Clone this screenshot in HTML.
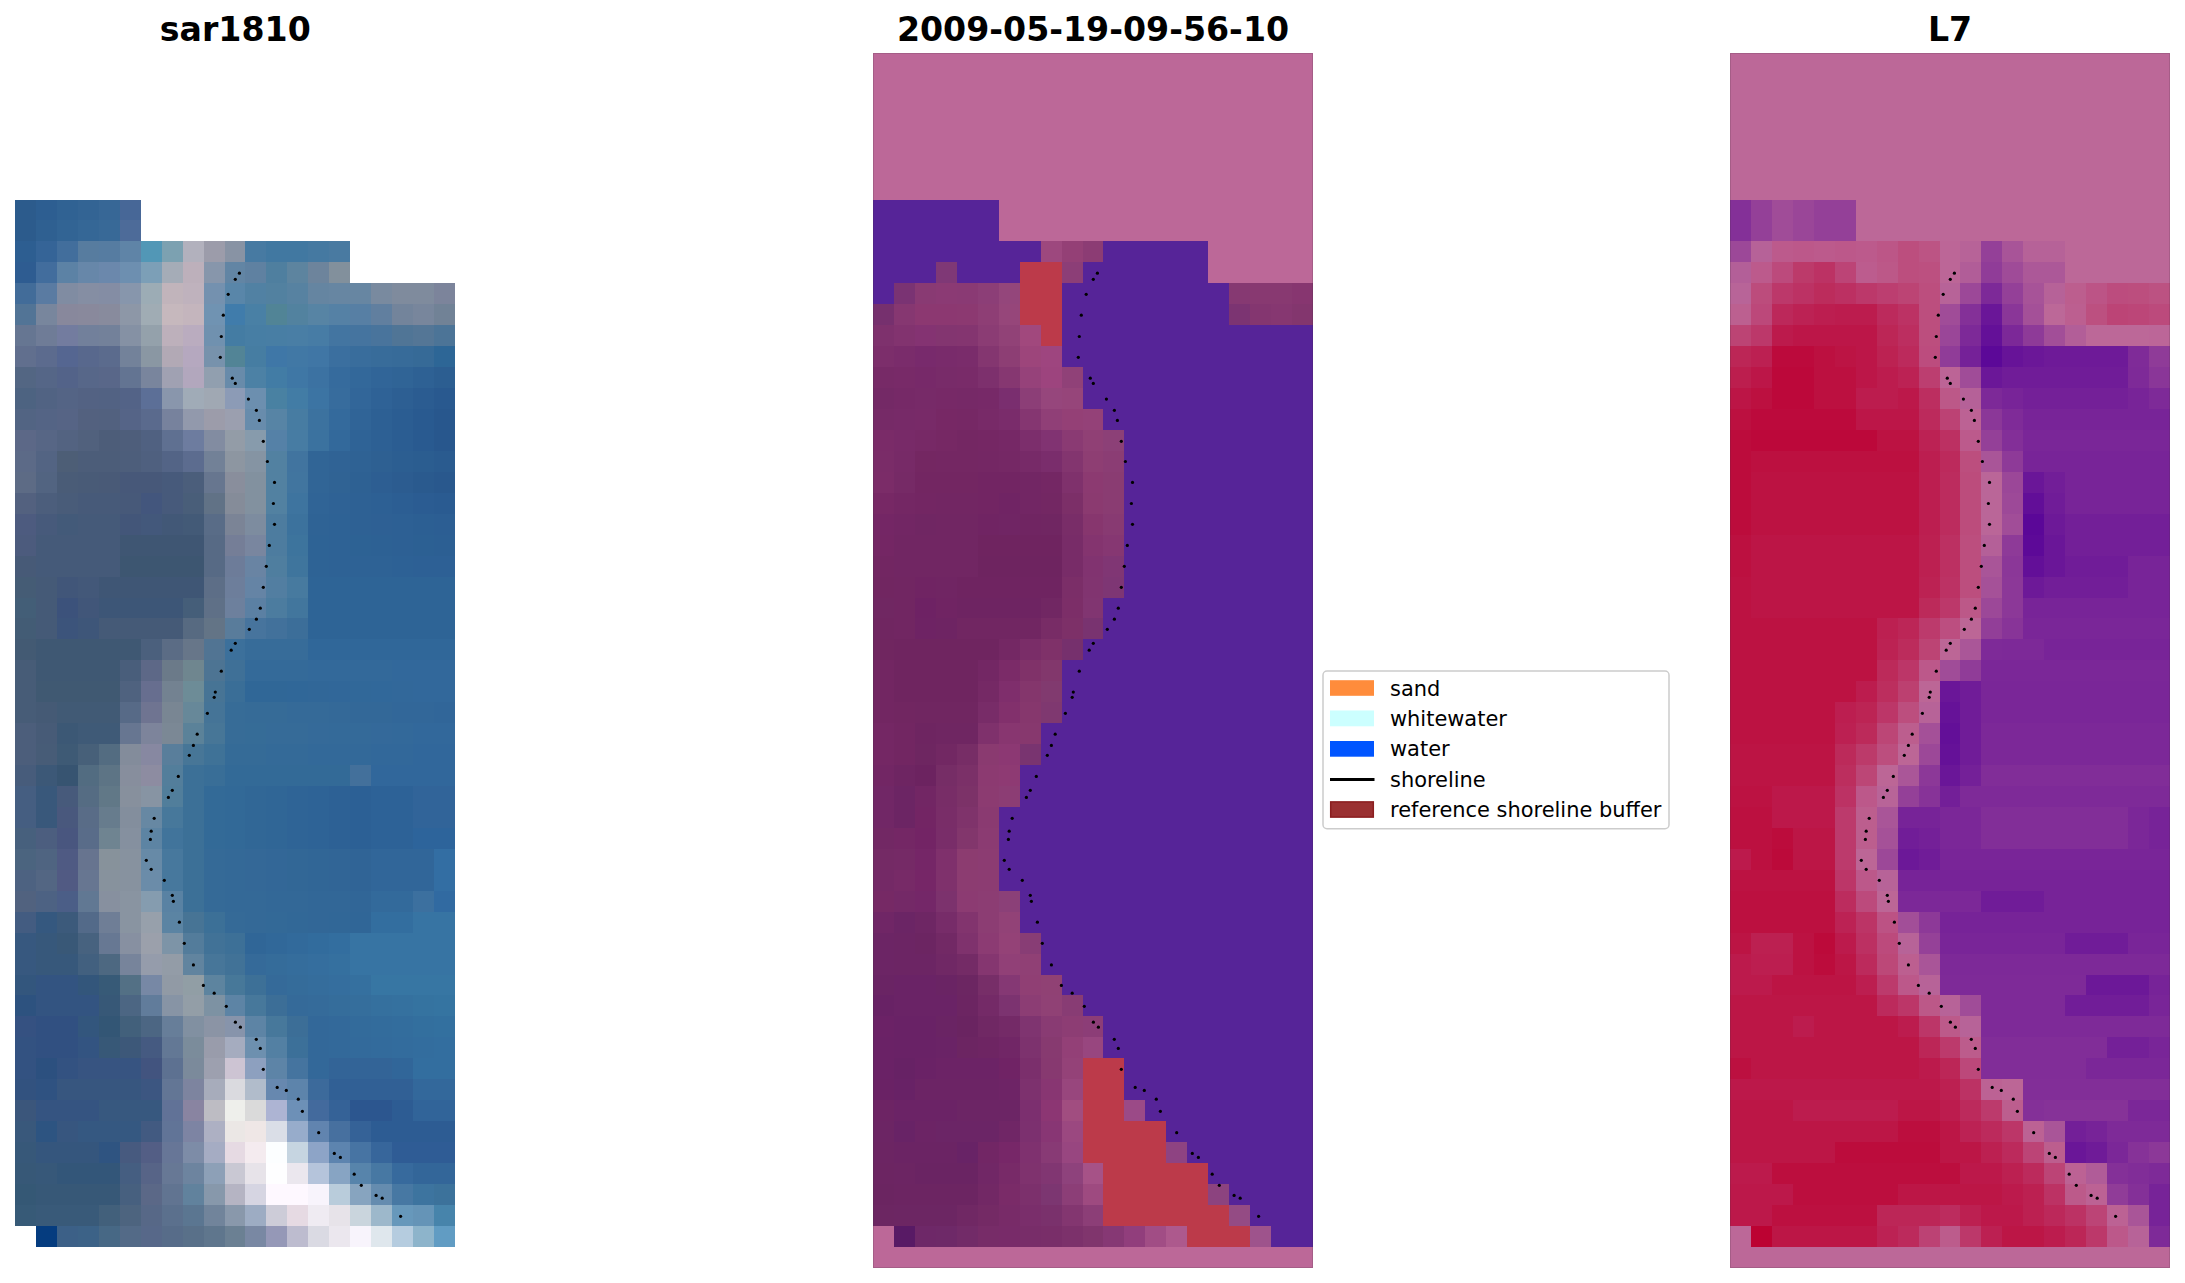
<!DOCTYPE html>
<html><head><meta charset="utf-8"><title>shoreline</title>
<style>html,body{margin:0;padding:0;background:#fff}svg{display:block}</style></head>
<body><svg width="2185" height="1283" viewBox="0 0 2185 1283">
<rect width="2185" height="1283" fill="#fff"/>
<g transform="translate(15.0 52.9) scale(20.95238 20.94655)" shape-rendering="crispEdges">
<path d="M0 7h1v1h-1z" fill="#2c5b8c"/>
<path d="M1 7h1v1h-1z" fill="#2d5e91"/>
<path d="M2 7h1v1h-1z" fill="#306293"/>
<path d="M3 7h1v1h-1z" fill="#336494"/>
<path d="M4 7h1v1h-1z" fill="#376796"/>
<path d="M5 7h1v1h-1z" fill="#476797"/>
<path d="M0 8h1v1h-1z" fill="#2c5b8c"/>
<path d="M1 8h1v1h-1z" fill="#2f6091"/>
<path d="M2 8h1v1h-1z" fill="#326494"/>
<path d="M3 8h1v1h-1z" fill="#356796"/>
<path d="M4 8h1v1h-1z" fill="#386997"/>
<path d="M5 8h1v1h-1z" fill="#4d6b99"/>
<path d="M0 9h1v1h-1z" fill="#2d5e91"/>
<path d="M1 9h1v1h-1z" fill="#356497"/>
<path d="M2 9h1v1h-1z" fill="#426e9c"/>
<path d="M3 9h1v1h-1z" fill="#577c9f"/>
<path d="M4 9h1v1h-1z" fill="#567ca1"/>
<path d="M5 9h1v1h-1z" fill="#5f84a7"/>
<path d="M6 9h1v1h-1z" fill="#5297b6"/>
<path d="M7 9h1v1h-1z" fill="#7ca1b1"/>
<path d="M8 9h1v1h-1z" fill="#b2b1bd"/>
<path d="M9 9h1v1h-1z" fill="#9c9caa"/>
<path d="M10 9h1v1h-1z" fill="#8893a4"/>
<path d="M11 9h1v1h-1z" fill="#477aa2"/>
<path d="M12 9h2v1h-2z" fill="#4178a1"/>
<path d="M14 9h1v1h-1z" fill="#4579a1"/>
<path d="M15 9h1v1h-1z" fill="#497aa1"/>
<path d="M0 10h1v1h-1z" fill="#2e5c91"/>
<path d="M1 10h1v1h-1z" fill="#426d9d"/>
<path d="M2 10h1v1h-1z" fill="#5c82a5"/>
<path d="M3 10h1v1h-1z" fill="#6787a9"/>
<path d="M4 10h1v1h-1z" fill="#6b88ac"/>
<path d="M5 10h1v1h-1z" fill="#6d8fb0"/>
<path d="M6 10h1v1h-1z" fill="#7c9fb7"/>
<path d="M7 10h1v1h-1z" fill="#a5acb7"/>
<path d="M8 10h1v1h-1z" fill="#bdb0bb"/>
<path d="M9 10h1v1h-1z" fill="#8796ab"/>
<path d="M10 10h1v1h-1z" fill="#6285a4"/>
<path d="M11 10h1v1h-1z" fill="#5f81a1"/>
<path d="M12 10h1v1h-1z" fill="#4f7f9f"/>
<path d="M13 10h1v1h-1z" fill="#5d849f"/>
<path d="M14 10h1v1h-1z" fill="#6d849c"/>
<path d="M15 10h1v1h-1z" fill="#82909c"/>
<path d="M0 11h1v1h-1z" fill="#426c99"/>
<path d="M1 11h1v1h-1z" fill="#5a7ba2"/>
<path d="M2 11h1v1h-1z" fill="#808ca2"/>
<path d="M3 11h1v1h-1z" fill="#858ea3"/>
<path d="M4 11h1v1h-1z" fill="#848da4"/>
<path d="M5 11h1v1h-1z" fill="#8796ac"/>
<path d="M6 11h1v1h-1z" fill="#9cacb5"/>
<path d="M7 11h1v1h-1z" fill="#c1b4bb"/>
<path d="M8 11h1v1h-1z" fill="#bfb2bd"/>
<path d="M9 11h1v1h-1z" fill="#7491af"/>
<path d="M10 11h1v1h-1z" fill="#5986a9"/>
<path d="M11 11h1v1h-1z" fill="#5181a3"/>
<path d="M12 11h1v1h-1z" fill="#5281a0"/>
<path d="M13 11h1v1h-1z" fill="#5782a1"/>
<path d="M14 11h1v1h-1z" fill="#6585a1"/>
<path d="M15 11h2v1h-2z" fill="#6786a2"/>
<path d="M17 11h1v1h-1z" fill="#798a9f"/>
<path d="M18 11h2v1h-2z" fill="#7f8b9d"/>
<path d="M20 11h1v1h-1z" fill="#7c849b"/>
<path d="M0 12h1v1h-1z" fill="#527496"/>
<path d="M1 12h1v1h-1z" fill="#78869d"/>
<path d="M2 12h1v1h-1z" fill="#88889c"/>
<path d="M3 12h1v1h-1z" fill="#89899c"/>
<path d="M4 12h1v1h-1z" fill="#888b9d"/>
<path d="M5 12h1v1h-1z" fill="#8d97a7"/>
<path d="M6 12h1v1h-1z" fill="#a0acb4"/>
<path d="M7 12h1v1h-1z" fill="#c6b8bd"/>
<path d="M8 12h1v1h-1z" fill="#c4b5bd"/>
<path d="M9 12h1v1h-1z" fill="#7093b2"/>
<path d="M10 12h1v1h-1z" fill="#407cab"/>
<path d="M11 12h1v1h-1z" fill="#4980a5"/>
<path d="M12 12h1v1h-1z" fill="#518496"/>
<path d="M13 12h1v1h-1z" fill="#52829f"/>
<path d="M14 12h1v1h-1z" fill="#5784a4"/>
<path d="M15 12h1v1h-1z" fill="#5581a5"/>
<path d="M16 12h1v1h-1z" fill="#577fa4"/>
<path d="M17 12h1v1h-1z" fill="#617f9f"/>
<path d="M18 12h1v1h-1z" fill="#73849b"/>
<path d="M19 12h1v1h-1z" fill="#78869c"/>
<path d="M20 12h1v1h-1z" fill="#718296"/>
<path d="M0 13h1v1h-1z" fill="#667692"/>
<path d="M1 13h1v1h-1z" fill="#6f7c97"/>
<path d="M2 13h1v1h-1z" fill="#737c9f"/>
<path d="M3 13h1v1h-1z" fill="#72809b"/>
<path d="M4 13h1v1h-1z" fill="#73819a"/>
<path d="M5 13h1v1h-1z" fill="#8591a4"/>
<path d="M6 13h1v1h-1z" fill="#94a1ab"/>
<path d="M7 13h1v1h-1z" fill="#bdb0bb"/>
<path d="M8 13h1v1h-1z" fill="#baacbf"/>
<path d="M9 13h1v1h-1z" fill="#7091af"/>
<path d="M10 13h1v1h-1z" fill="#447ca3"/>
<path d="M11 13h1v1h-1z" fill="#477ea4"/>
<path d="M12 13h1v1h-1z" fill="#487ea4"/>
<path d="M13 13h1v1h-1z" fill="#497ea5"/>
<path d="M14 13h1v1h-1z" fill="#477ca5"/>
<path d="M15 13h1v1h-1z" fill="#4375a1"/>
<path d="M16 13h1v1h-1z" fill="#45749f"/>
<path d="M17 13h1v1h-1z" fill="#49749c"/>
<path d="M18 13h1v1h-1z" fill="#507596"/>
<path d="M19 13h1v1h-1z" fill="#547696"/>
<path d="M20 13h1v1h-1z" fill="#4c7497"/>
<path d="M0 14h1v1h-1z" fill="#616f8e"/>
<path d="M1 14h1v1h-1z" fill="#5c6b8e"/>
<path d="M2 14h1v1h-1z" fill="#556691"/>
<path d="M3 14h1v1h-1z" fill="#58688d"/>
<path d="M4 14h1v1h-1z" fill="#5b6b8d"/>
<path d="M5 14h1v1h-1z" fill="#73829a"/>
<path d="M6 14h1v1h-1z" fill="#8a97a3"/>
<path d="M7 14h1v1h-1z" fill="#b2a9b5"/>
<path d="M8 14h1v1h-1z" fill="#b5a8bf"/>
<path d="M9 14h1v1h-1z" fill="#7792ac"/>
<path d="M10 14h1v1h-1z" fill="#528496"/>
<path d="M11 14h1v1h-1z" fill="#467da2"/>
<path d="M12 14h1v1h-1z" fill="#3f77a7"/>
<path d="M13 14h1v1h-1z" fill="#4178a5"/>
<path d="M14 14h1v1h-1z" fill="#4076a5"/>
<path d="M15 14h1v1h-1z" fill="#3b6f9f"/>
<path d="M16 14h1v1h-1z" fill="#396d9c"/>
<path d="M17 14h1v1h-1z" fill="#386c9a"/>
<path d="M18 14h1v1h-1z" fill="#376b99"/>
<path d="M19 14h1v1h-1z" fill="#366a97"/>
<path d="M20 14h1v1h-1z" fill="#2d6696"/>
<path d="M0 15h1v1h-1z" fill="#536683"/>
<path d="M1 15h1v1h-1z" fill="#556687"/>
<path d="M2 15h1v1h-1z" fill="#536389"/>
<path d="M3 15h1v1h-1z" fill="#576789"/>
<path d="M4 15h1v1h-1z" fill="#596789"/>
<path d="M5 15h1v1h-1z" fill="#637492"/>
<path d="M6 15h1v1h-1z" fill="#79859d"/>
<path d="M7 15h1v1h-1z" fill="#a0a1b2"/>
<path d="M8 15h1v1h-1z" fill="#b2a7bd"/>
<path d="M9 15h1v1h-1z" fill="#919faf"/>
<path d="M10 15h1v1h-1z" fill="#688baa"/>
<path d="M11 15h1v1h-1z" fill="#4c81a5"/>
<path d="M12 15h1v1h-1z" fill="#427ca5"/>
<path d="M13 15h1v1h-1z" fill="#3f77a5"/>
<path d="M14 15h1v1h-1z" fill="#3c72a2"/>
<path d="M15 15h1v1h-1z" fill="#366b9d"/>
<path d="M16 15h1v1h-1z" fill="#33689a"/>
<path d="M17 15h1v1h-1z" fill="#316598"/>
<path d="M18 15h1v1h-1z" fill="#306496"/>
<path d="M19 15h1v1h-1z" fill="#2e6194"/>
<path d="M20 15h1v1h-1z" fill="#2c5e91"/>
<path d="M0 16h1v1h-1z" fill="#4d6381"/>
<path d="M1 16h1v1h-1z" fill="#516383"/>
<path d="M2 16h1v1h-1z" fill="#546485"/>
<path d="M3 16h1v1h-1z" fill="#536283"/>
<path d="M4 16h1v1h-1z" fill="#526283"/>
<path d="M5 16h1v1h-1z" fill="#536387"/>
<path d="M6 16h1v1h-1z" fill="#5c6f97"/>
<path d="M7 16h1v1h-1z" fill="#8996ac"/>
<path d="M8 16h1v1h-1z" fill="#a0abb7"/>
<path d="M9 16h1v1h-1z" fill="#a0a8b3"/>
<path d="M10 16h1v1h-1z" fill="#8c9bb6"/>
<path d="M11 16h1v1h-1z" fill="#6c8faf"/>
<path d="M12 16h1v1h-1z" fill="#4981a2"/>
<path d="M13 16h1v1h-1z" fill="#427ca5"/>
<path d="M14 16h1v1h-1z" fill="#3c74a3"/>
<path d="M15 16h1v1h-1z" fill="#376c9d"/>
<path d="M16 16h1v1h-1z" fill="#326699"/>
<path d="M17 16h1v1h-1z" fill="#2f6296"/>
<path d="M18 16h1v1h-1z" fill="#2d5f93"/>
<path d="M19 16h1v1h-1z" fill="#2b5c91"/>
<path d="M20 16h1v1h-1z" fill="#29598f"/>
<path d="M0 17h1v1h-1z" fill="#526483"/>
<path d="M1 17h1v1h-1z" fill="#546485"/>
<path d="M2 17h1v1h-1z" fill="#566485"/>
<path d="M3 17h1v1h-1z" fill="#53617f"/>
<path d="M4 17h1v1h-1z" fill="#52617f"/>
<path d="M5 17h1v1h-1z" fill="#556487"/>
<path d="M6 17h1v1h-1z" fill="#5a6a8d"/>
<path d="M7 17h1v1h-1z" fill="#77829d"/>
<path d="M8 17h1v1h-1z" fill="#9299ac"/>
<path d="M9 17h1v1h-1z" fill="#9c9caa"/>
<path d="M10 17h1v1h-1z" fill="#9b9faf"/>
<path d="M11 17h1v1h-1z" fill="#688cac"/>
<path d="M12 17h1v1h-1z" fill="#5784a5"/>
<path d="M13 17h1v1h-1z" fill="#477ca2"/>
<path d="M14 17h1v1h-1z" fill="#3c729f"/>
<path d="M15 17h1v1h-1z" fill="#346a9c"/>
<path d="M16 17h1v1h-1z" fill="#306497"/>
<path d="M17 17h1v1h-1z" fill="#2d6094"/>
<path d="M18 17h1v1h-1z" fill="#2b5d92"/>
<path d="M19 17h1v1h-1z" fill="#295a90"/>
<path d="M20 17h1v1h-1z" fill="#28578d"/>
<path d="M0 18h1v1h-1z" fill="#5c6887"/>
<path d="M1 18h1v1h-1z" fill="#576685"/>
<path d="M2 18h1v1h-1z" fill="#536381"/>
<path d="M3 18h1v1h-1z" fill="#51617d"/>
<path d="M4 18h1v1h-1z" fill="#4d5d79"/>
<path d="M5 18h1v1h-1z" fill="#4e5e7b"/>
<path d="M6 18h1v1h-1z" fill="#506181"/>
<path d="M7 18h1v1h-1z" fill="#5f7091"/>
<path d="M8 18h1v1h-1z" fill="#6d7c9f"/>
<path d="M9 18h1v1h-1z" fill="#828ca1"/>
<path d="M10 18h1v1h-1z" fill="#939ca7"/>
<path d="M11 18h1v1h-1z" fill="#879bac"/>
<path d="M12 18h1v1h-1z" fill="#5581a7"/>
<path d="M13 18h1v1h-1z" fill="#477ca3"/>
<path d="M14 18h1v1h-1z" fill="#3b729f"/>
<path d="M15 18h1v1h-1z" fill="#33699b"/>
<path d="M16 18h1v1h-1z" fill="#2f6396"/>
<path d="M17 18h1v1h-1z" fill="#2d6094"/>
<path d="M18 18h1v1h-1z" fill="#2b5d92"/>
<path d="M19 18h1v1h-1z" fill="#295a90"/>
<path d="M20 18h1v1h-1z" fill="#28578d"/>
<path d="M0 19h1v1h-1z" fill="#5c6a87"/>
<path d="M1 19h1v1h-1z" fill="#536483"/>
<path d="M2 19h1v1h-1z" fill="#4d5e76"/>
<path d="M3 19h2v1h-2z" fill="#4c5d79"/>
<path d="M5 19h1v1h-1z" fill="#4d5e7b"/>
<path d="M6 19h1v1h-1z" fill="#4f607f"/>
<path d="M7 19h1v1h-1z" fill="#536486"/>
<path d="M8 19h1v1h-1z" fill="#5c6c8f"/>
<path d="M9 19h1v1h-1z" fill="#728197"/>
<path d="M10 19h1v1h-1z" fill="#8d96a1"/>
<path d="M11 19h1v1h-1z" fill="#8594a3"/>
<path d="M12 19h1v1h-1z" fill="#5281a1"/>
<path d="M13 19h1v1h-1z" fill="#41749f"/>
<path d="M14 19h1v1h-1z" fill="#316596"/>
<path d="M15 19h1v1h-1z" fill="#306395"/>
<path d="M16 19h1v1h-1z" fill="#2f6294"/>
<path d="M17 19h1v1h-1z" fill="#2e6092"/>
<path d="M18 19h1v1h-1z" fill="#2c5e91"/>
<path d="M19 19h1v1h-1z" fill="#2b5d90"/>
<path d="M20 19h1v1h-1z" fill="#2a5b8f"/>
<path d="M0 20h1v1h-1z" fill="#5d6b85"/>
<path d="M1 20h1v1h-1z" fill="#526481"/>
<path d="M2 20h1v1h-1z" fill="#4a5c77"/>
<path d="M3 20h1v1h-1z" fill="#495b77"/>
<path d="M4 20h1v1h-1z" fill="#495a77"/>
<path d="M5 20h2v1h-2z" fill="#475879"/>
<path d="M7 20h1v1h-1z" fill="#475a7b"/>
<path d="M8 20h1v1h-1z" fill="#4b5e7b"/>
<path d="M9 20h1v1h-1z" fill="#67768f"/>
<path d="M10 20h1v1h-1z" fill="#898e9c"/>
<path d="M11 20h1v1h-1z" fill="#82919f"/>
<path d="M12 20h1v1h-1z" fill="#5281a1"/>
<path d="M13 20h1v1h-1z" fill="#41759f"/>
<path d="M14 20h1v1h-1z" fill="#316596"/>
<path d="M15 20h1v1h-1z" fill="#306394"/>
<path d="M16 20h1v1h-1z" fill="#2e6193"/>
<path d="M17 20h1v1h-1z" fill="#2d5e92"/>
<path d="M18 20h1v1h-1z" fill="#2c5c90"/>
<path d="M19 20h1v1h-1z" fill="#2a5a8e"/>
<path d="M20 20h1v1h-1z" fill="#29588d"/>
<path d="M0 21h1v1h-1z" fill="#53617f"/>
<path d="M1 21h1v1h-1z" fill="#4c5e7c"/>
<path d="M2 21h1v1h-1z" fill="#495c79"/>
<path d="M3 21h2v1h-2z" fill="#475a79"/>
<path d="M5 21h1v1h-1z" fill="#475979"/>
<path d="M6 21h1v1h-1z" fill="#43567d"/>
<path d="M7 21h1v1h-1z" fill="#475a7b"/>
<path d="M8 21h1v1h-1z" fill="#495e79"/>
<path d="M9 21h1v1h-1z" fill="#617286"/>
<path d="M10 21h1v1h-1z" fill="#858c99"/>
<path d="M11 21h1v1h-1z" fill="#82919f"/>
<path d="M12 21h1v1h-1z" fill="#5281a1"/>
<path d="M13 21h1v1h-1z" fill="#3e749f"/>
<path d="M14 21h1v1h-1z" fill="#306496"/>
<path d="M15 21h1v1h-1z" fill="#2f6295"/>
<path d="M16 21h1v1h-1z" fill="#2e6194"/>
<path d="M17 21h1v1h-1z" fill="#2d6094"/>
<path d="M18 21h1v1h-1z" fill="#2c5e93"/>
<path d="M19 21h1v1h-1z" fill="#2b5c92"/>
<path d="M20 21h1v1h-1z" fill="#2a5b91"/>
<path d="M0 22h1v1h-1z" fill="#4d5b7f"/>
<path d="M1 22h1v1h-1z" fill="#475a7b"/>
<path d="M2 22h1v1h-1z" fill="#435a79"/>
<path d="M3 22h2v1h-2z" fill="#455a79"/>
<path d="M5 22h1v1h-1z" fill="#435679"/>
<path d="M6 22h1v1h-1z" fill="#43587b"/>
<path d="M7 22h1v1h-1z" fill="#425877"/>
<path d="M8 22h1v1h-1z" fill="#435a77"/>
<path d="M9 22h1v1h-1z" fill="#596c87"/>
<path d="M10 22h1v1h-1z" fill="#7b8496"/>
<path d="M11 22h1v1h-1z" fill="#7d8c9f"/>
<path d="M12 22h1v1h-1z" fill="#4d7c9f"/>
<path d="M13 22h1v1h-1z" fill="#3c729d"/>
<path d="M14 22h1v1h-1z" fill="#2f6395"/>
<path d="M15 22h1v1h-1z" fill="#2e6295"/>
<path d="M16 22h1v1h-1z" fill="#2e6194"/>
<path d="M17 22h1v1h-1z" fill="#2e6094"/>
<path d="M18 22h1v1h-1z" fill="#2d6094"/>
<path d="M19 22h1v1h-1z" fill="#2c5f93"/>
<path d="M20 22h1v1h-1z" fill="#2c5e93"/>
<path d="M0 23h1v1h-1z" fill="#4c5b7d"/>
<path d="M1 23h4v1h-4z" fill="#455a79"/>
<path d="M5 23h4v1h-4z" fill="#3f5673"/>
<path d="M9 23h1v1h-1z" fill="#576a85"/>
<path d="M10 23h1v1h-1z" fill="#757e97"/>
<path d="M11 23h1v1h-1z" fill="#79869f"/>
<path d="M12 23h1v1h-1z" fill="#4d7c9f"/>
<path d="M13 23h1v1h-1z" fill="#3d749d"/>
<path d="M14 23h1v1h-1z" fill="#2e6395"/>
<path d="M15 23h1v1h-1z" fill="#2e6295"/>
<path d="M16 23h1v1h-1z" fill="#2d6294"/>
<path d="M17 23h1v1h-1z" fill="#2d6194"/>
<path d="M18 23h1v1h-1z" fill="#2d6094"/>
<path d="M19 23h1v1h-1z" fill="#2c6093"/>
<path d="M20 23h1v1h-1z" fill="#2c5f93"/>
<path d="M0 24h1v1h-1z" fill="#475a77"/>
<path d="M1 24h4v1h-4z" fill="#455a79"/>
<path d="M5 24h4v1h-4z" fill="#3d5671"/>
<path d="M9 24h1v1h-1z" fill="#576a85"/>
<path d="M10 24h1v1h-1z" fill="#6d7c99"/>
<path d="M11 24h1v1h-1z" fill="#6984a3"/>
<path d="M12 24h1v1h-1z" fill="#4f7e9f"/>
<path d="M13 24h1v1h-1z" fill="#3f759d"/>
<path d="M14 24h1v1h-1z" fill="#2e6395"/>
<path d="M15 24h3v1h-3z" fill="#2e6295"/>
<path d="M18 24h1v1h-1z" fill="#2d6195"/>
<path d="M19 24h2v1h-2z" fill="#2d6095"/>
<path d="M0 25h1v1h-1z" fill="#455c75"/>
<path d="M1 25h1v1h-1z" fill="#455a77"/>
<path d="M2 25h1v1h-1z" fill="#415679"/>
<path d="M3 25h1v1h-1z" fill="#435879"/>
<path d="M4 25h5v1h-5z" fill="#3f5675"/>
<path d="M9 25h1v1h-1z" fill="#5d6e87"/>
<path d="M10 25h1v1h-1z" fill="#6d7e9b"/>
<path d="M11 25h1v1h-1z" fill="#6584a5"/>
<path d="M12 25h1v1h-1z" fill="#527ea1"/>
<path d="M13 25h1v1h-1z" fill="#477a9f"/>
<path d="M14 25h7v1h-7z" fill="#2e6496"/>
<path d="M0 26h1v1h-1z" fill="#435e77"/>
<path d="M1 26h1v1h-1z" fill="#455a77"/>
<path d="M2 26h1v1h-1z" fill="#3c527b"/>
<path d="M3 26h1v1h-1z" fill="#415679"/>
<path d="M4 26h4v1h-4z" fill="#3d5677"/>
<path d="M8 26h1v1h-1z" fill="#455e79"/>
<path d="M9 26h1v1h-1z" fill="#5f7087"/>
<path d="M10 26h1v1h-1z" fill="#6d809d"/>
<path d="M11 26h1v1h-1z" fill="#5b80a3"/>
<path d="M12 26h1v1h-1z" fill="#4c7c9f"/>
<path d="M13 26h1v1h-1z" fill="#42769d"/>
<path d="M14 26h7v1h-7z" fill="#2e6496"/>
<path d="M0 27h1v1h-1z" fill="#435c75"/>
<path d="M1 27h1v1h-1z" fill="#455a77"/>
<path d="M2 27h1v1h-1z" fill="#3c547b"/>
<path d="M3 27h1v1h-1z" fill="#3e5679"/>
<path d="M4 27h4v1h-4z" fill="#455a77"/>
<path d="M8 27h1v1h-1z" fill="#576a81"/>
<path d="M9 27h1v1h-1z" fill="#637486"/>
<path d="M10 27h1v1h-1z" fill="#597c9b"/>
<path d="M11 27h1v1h-1z" fill="#47749d"/>
<path d="M12 27h1v1h-1z" fill="#42719b"/>
<path d="M13 27h1v1h-1z" fill="#3c6e99"/>
<path d="M14 27h7v1h-7z" fill="#2e6496"/>
<path d="M0 28h1v1h-1z" fill="#435a73"/>
<path d="M1 28h5v1h-5z" fill="#3f5873"/>
<path d="M6 28h1v1h-1z" fill="#4b607d"/>
<path d="M7 28h1v1h-1z" fill="#5b6c85"/>
<path d="M8 28h1v1h-1z" fill="#677689"/>
<path d="M9 28h1v1h-1z" fill="#517493"/>
<path d="M10 28h1v1h-1z" fill="#3c709b"/>
<path d="M11 28h3v1h-3z" fill="#376c99"/>
<path d="M14 28h7v1h-7z" fill="#306799"/>
<path d="M0 29h1v1h-1z" fill="#475c77"/>
<path d="M1 29h4v1h-4z" fill="#3f5873"/>
<path d="M5 29h1v1h-1z" fill="#495e7b"/>
<path d="M6 29h1v1h-1z" fill="#5d6887"/>
<path d="M7 29h1v1h-1z" fill="#6b7a89"/>
<path d="M8 29h1v1h-1z" fill="#6f868f"/>
<path d="M9 29h1v1h-1z" fill="#4d7493"/>
<path d="M10 29h1v1h-1z" fill="#3f7097"/>
<path d="M11 29h3v1h-3z" fill="#346a99"/>
<path d="M14 29h4v1h-4z" fill="#33699a"/>
<path d="M18 29h3v1h-3z" fill="#32689b"/>
<path d="M0 30h1v1h-1z" fill="#475c77"/>
<path d="M1 30h4v1h-4z" fill="#405972"/>
<path d="M5 30h1v1h-1z" fill="#4f627f"/>
<path d="M6 30h1v1h-1z" fill="#676e8f"/>
<path d="M7 30h1v1h-1z" fill="#738291"/>
<path d="M8 30h1v1h-1z" fill="#6d8c97"/>
<path d="M9 30h1v1h-1z" fill="#477495"/>
<path d="M10 30h1v1h-1z" fill="#3a6e97"/>
<path d="M11 30h2v1h-2z" fill="#306797"/>
<path d="M13 30h1v1h-1z" fill="#306798"/>
<path d="M14 30h1v1h-1z" fill="#316798"/>
<path d="M15 30h1v1h-1z" fill="#316799"/>
<path d="M16 30h1v1h-1z" fill="#316899"/>
<path d="M17 30h1v1h-1z" fill="#31689a"/>
<path d="M18 30h1v1h-1z" fill="#32689a"/>
<path d="M19 30h2v1h-2z" fill="#32689b"/>
<path d="M0 31h1v1h-1z" fill="#475c77"/>
<path d="M1 31h1v1h-1z" fill="#455a75"/>
<path d="M2 31h3v1h-3z" fill="#415a75"/>
<path d="M5 31h1v1h-1z" fill="#576a87"/>
<path d="M6 31h1v1h-1z" fill="#6f7491"/>
<path d="M7 31h1v1h-1z" fill="#798693"/>
<path d="M8 31h1v1h-1z" fill="#678899"/>
<path d="M9 31h1v1h-1z" fill="#457497"/>
<path d="M10 31h1v1h-1z" fill="#376c97"/>
<path d="M11 31h2v1h-2z" fill="#366b97"/>
<path d="M13 31h2v1h-2z" fill="#356a98"/>
<path d="M15 31h1v1h-1z" fill="#346998"/>
<path d="M16 31h2v1h-2z" fill="#336898"/>
<path d="M18 31h2v1h-2z" fill="#326799"/>
<path d="M20 31h1v1h-1z" fill="#316699"/>
<path d="M0 32h1v1h-1z" fill="#4c5e7b"/>
<path d="M1 32h1v1h-1z" fill="#475b77"/>
<path d="M2 32h1v1h-1z" fill="#3c5875"/>
<path d="M3 32h2v1h-2z" fill="#3f5a77"/>
<path d="M5 32h1v1h-1z" fill="#677691"/>
<path d="M6 32h1v1h-1z" fill="#7d849b"/>
<path d="M7 32h1v1h-1z" fill="#7b8895"/>
<path d="M8 32h1v1h-1z" fill="#5b8299"/>
<path d="M9 32h1v1h-1z" fill="#477697"/>
<path d="M10 32h1v1h-1z" fill="#376c97"/>
<path d="M11 32h1v1h-1z" fill="#366c97"/>
<path d="M12 32h2v1h-2z" fill="#366b98"/>
<path d="M14 32h1v1h-1z" fill="#356a99"/>
<path d="M15 32h2v1h-2z" fill="#346a99"/>
<path d="M17 32h1v1h-1z" fill="#34699a"/>
<path d="M18 32h1v1h-1z" fill="#33699a"/>
<path d="M19 32h2v1h-2z" fill="#32689b"/>
<path d="M0 33h1v1h-1z" fill="#4c5e7b"/>
<path d="M1 33h1v1h-1z" fill="#475c77"/>
<path d="M2 33h1v1h-1z" fill="#3e5a75"/>
<path d="M3 33h1v1h-1z" fill="#476079"/>
<path d="M4 33h1v1h-1z" fill="#536c81"/>
<path d="M5 33h1v1h-1z" fill="#838c9b"/>
<path d="M6 33h1v1h-1z" fill="#8788a1"/>
<path d="M7 33h1v1h-1z" fill="#597e9b"/>
<path d="M8 33h1v1h-1z" fill="#477697"/>
<path d="M9 33h1v1h-1z" fill="#3f7297"/>
<path d="M10 33h2v1h-2z" fill="#356b97"/>
<path d="M12 33h2v1h-2z" fill="#346a98"/>
<path d="M14 33h3v1h-3z" fill="#336999"/>
<path d="M17 33h2v1h-2z" fill="#32689a"/>
<path d="M19 33h2v1h-2z" fill="#31679b"/>
<path d="M0 34h1v1h-1z" fill="#475c7b"/>
<path d="M1 34h1v1h-1z" fill="#3c5877"/>
<path d="M2 34h1v1h-1z" fill="#375471"/>
<path d="M3 34h1v1h-1z" fill="#526c81"/>
<path d="M4 34h1v1h-1z" fill="#5d7485"/>
<path d="M5 34h1v1h-1z" fill="#878e9d"/>
<path d="M6 34h1v1h-1z" fill="#8d8ca1"/>
<path d="M7 34h1v1h-1z" fill="#537e9b"/>
<path d="M8 34h1v1h-1z" fill="#3c7097"/>
<path d="M9 34h1v1h-1z" fill="#396e97"/>
<path d="M10 34h6v1h-6z" fill="#336a97"/>
<path d="M16 34h1v1h-1z" fill="#43709b"/>
<path d="M17 34h4v1h-4z" fill="#31679b"/>
<path d="M0 35h1v1h-1z" fill="#455e81"/>
<path d="M1 35h1v1h-1z" fill="#39587b"/>
<path d="M2 35h1v1h-1z" fill="#475a7b"/>
<path d="M3 35h1v1h-1z" fill="#556c83"/>
<path d="M4 35h1v1h-1z" fill="#617887"/>
<path d="M5 35h1v1h-1z" fill="#87909d"/>
<path d="M6 35h1v1h-1z" fill="#8794a3"/>
<path d="M7 35h1v1h-1z" fill="#517e9b"/>
<path d="M8 35h1v1h-1z" fill="#3c7097"/>
<path d="M9 35h1v1h-1z" fill="#336a97"/>
<path d="M10 35h1v1h-1z" fill="#326997"/>
<path d="M11 35h1v1h-1z" fill="#316796"/>
<path d="M12 35h1v1h-1z" fill="#306696"/>
<path d="M13 35h1v1h-1z" fill="#2f6496"/>
<path d="M14 35h1v1h-1z" fill="#2e6396"/>
<path d="M15 35h1v1h-1z" fill="#2d6195"/>
<path d="M16 35h1v1h-1z" fill="#2c6095"/>
<path d="M17 35h2v1h-2z" fill="#2d6297"/>
<path d="M19 35h2v1h-2z" fill="#316499"/>
<path d="M0 36h1v1h-1z" fill="#455e81"/>
<path d="M1 36h1v1h-1z" fill="#39587b"/>
<path d="M2 36h1v1h-1z" fill="#49587d"/>
<path d="M3 36h1v1h-1z" fill="#596c87"/>
<path d="M4 36h1v1h-1z" fill="#677c8d"/>
<path d="M5 36h1v1h-1z" fill="#838e9d"/>
<path d="M6 36h1v1h-1z" fill="#6788a3"/>
<path d="M7 36h1v1h-1z" fill="#47789b"/>
<path d="M8 36h1v1h-1z" fill="#3c7097"/>
<path d="M9 36h1v1h-1z" fill="#336a97"/>
<path d="M10 36h1v1h-1z" fill="#326997"/>
<path d="M11 36h1v1h-1z" fill="#316796"/>
<path d="M12 36h1v1h-1z" fill="#306696"/>
<path d="M13 36h1v1h-1z" fill="#2f6496"/>
<path d="M14 36h1v1h-1z" fill="#2e6396"/>
<path d="M15 36h1v1h-1z" fill="#2d6195"/>
<path d="M16 36h1v1h-1z" fill="#2c6095"/>
<path d="M17 36h2v1h-2z" fill="#2d6297"/>
<path d="M19 36h2v1h-2z" fill="#316499"/>
<path d="M0 37h1v1h-1z" fill="#47607d"/>
<path d="M1 37h1v1h-1z" fill="#4c5e7f"/>
<path d="M2 37h1v1h-1z" fill="#49567f"/>
<path d="M3 37h1v1h-1z" fill="#596c89"/>
<path d="M4 37h1v1h-1z" fill="#6f8491"/>
<path d="M5 37h1v1h-1z" fill="#85909f"/>
<path d="M6 37h1v1h-1z" fill="#5d84a3"/>
<path d="M7 37h1v1h-1z" fill="#41749b"/>
<path d="M8 37h1v1h-1z" fill="#3c7097"/>
<path d="M9 37h1v1h-1z" fill="#336a97"/>
<path d="M10 37h1v1h-1z" fill="#326997"/>
<path d="M11 37h1v1h-1z" fill="#316796"/>
<path d="M12 37h1v1h-1z" fill="#306696"/>
<path d="M13 37h1v1h-1z" fill="#2f6496"/>
<path d="M14 37h1v1h-1z" fill="#2e6396"/>
<path d="M15 37h1v1h-1z" fill="#2d6195"/>
<path d="M16 37h1v1h-1z" fill="#2c6095"/>
<path d="M17 37h2v1h-2z" fill="#2d6297"/>
<path d="M19 37h2v1h-2z" fill="#2d649b"/>
<path d="M0 38h1v1h-1z" fill="#4b647f"/>
<path d="M1 38h1v1h-1z" fill="#4f6481"/>
<path d="M2 38h1v1h-1z" fill="#4f5a83"/>
<path d="M3 38h1v1h-1z" fill="#67748f"/>
<path d="M4 38h1v1h-1z" fill="#87929b"/>
<path d="M5 38h1v1h-1z" fill="#87929f"/>
<path d="M6 38h1v1h-1z" fill="#678aa7"/>
<path d="M7 38h1v1h-1z" fill="#47789d"/>
<path d="M8 38h1v1h-1z" fill="#3c7097"/>
<path d="M9 38h1v1h-1z" fill="#356a97"/>
<path d="M10 38h1v1h-1z" fill="#346997"/>
<path d="M11 38h1v1h-1z" fill="#346897"/>
<path d="M12 38h1v1h-1z" fill="#336797"/>
<path d="M13 38h1v1h-1z" fill="#326796"/>
<path d="M14 38h1v1h-1z" fill="#316696"/>
<path d="M15 38h1v1h-1z" fill="#316596"/>
<path d="M16 38h1v1h-1z" fill="#306496"/>
<path d="M17 38h3v1h-3z" fill="#316699"/>
<path d="M20 38h1v1h-1z" fill="#336ea3"/>
<path d="M0 39h1v1h-1z" fill="#4d6281"/>
<path d="M1 39h1v1h-1z" fill="#536683"/>
<path d="M2 39h1v1h-1z" fill="#515a83"/>
<path d="M3 39h1v1h-1z" fill="#677691"/>
<path d="M4 39h1v1h-1z" fill="#87929d"/>
<path d="M5 39h1v1h-1z" fill="#87929f"/>
<path d="M6 39h1v1h-1z" fill="#6b8ca9"/>
<path d="M7 39h1v1h-1z" fill="#47789d"/>
<path d="M8 39h1v1h-1z" fill="#3c7097"/>
<path d="M9 39h1v1h-1z" fill="#356a97"/>
<path d="M10 39h1v1h-1z" fill="#346997"/>
<path d="M11 39h1v1h-1z" fill="#346897"/>
<path d="M12 39h1v1h-1z" fill="#336797"/>
<path d="M13 39h1v1h-1z" fill="#326796"/>
<path d="M14 39h1v1h-1z" fill="#316696"/>
<path d="M15 39h1v1h-1z" fill="#316596"/>
<path d="M16 39h1v1h-1z" fill="#306496"/>
<path d="M17 39h3v1h-3z" fill="#316699"/>
<path d="M20 39h1v1h-1z" fill="#336ea3"/>
<path d="M0 40h1v1h-1z" fill="#51627f"/>
<path d="M1 40h1v1h-1z" fill="#4d6283"/>
<path d="M2 40h1v1h-1z" fill="#4b5e87"/>
<path d="M3 40h1v1h-1z" fill="#617893"/>
<path d="M4 40h1v1h-1z" fill="#87909f"/>
<path d="M5 40h1v1h-1z" fill="#8994a1"/>
<path d="M6 40h1v1h-1z" fill="#859caf"/>
<path d="M7 40h1v1h-1z" fill="#5982a3"/>
<path d="M8 40h1v1h-1z" fill="#3c7097"/>
<path d="M9 40h1v1h-1z" fill="#356a97"/>
<path d="M10 40h2v1h-2z" fill="#346997"/>
<path d="M12 40h2v1h-2z" fill="#336897"/>
<path d="M14 40h2v1h-2z" fill="#326797"/>
<path d="M16 40h1v1h-1z" fill="#316697"/>
<path d="M17 40h2v1h-2z" fill="#336a9b"/>
<path d="M19 40h1v1h-1z" fill="#3c709f"/>
<path d="M20 40h1v1h-1z" fill="#316aa1"/>
<path d="M0 41h1v1h-1z" fill="#435c81"/>
<path d="M1 41h1v1h-1z" fill="#35587f"/>
<path d="M2 41h1v1h-1z" fill="#3c5a7b"/>
<path d="M3 41h1v1h-1z" fill="#536a89"/>
<path d="M4 41h1v1h-1z" fill="#6f7e96"/>
<path d="M5 41h1v1h-1z" fill="#8994a1"/>
<path d="M6 41h1v1h-1z" fill="#97a0ab"/>
<path d="M7 41h1v1h-1z" fill="#5b84a3"/>
<path d="M8 41h1v1h-1z" fill="#477495"/>
<path d="M9 41h1v1h-1z" fill="#3c7097"/>
<path d="M10 41h1v1h-1z" fill="#356a97"/>
<path d="M11 41h1v1h-1z" fill="#346997"/>
<path d="M12 41h1v1h-1z" fill="#336997"/>
<path d="M13 41h1v1h-1z" fill="#326897"/>
<path d="M14 41h1v1h-1z" fill="#326797"/>
<path d="M15 41h1v1h-1z" fill="#316797"/>
<path d="M16 41h1v1h-1z" fill="#306697"/>
<path d="M17 41h2v1h-2z" fill="#336e9f"/>
<path d="M19 41h2v1h-2z" fill="#3774a3"/>
<path d="M0 42h1v1h-1z" fill="#37587f"/>
<path d="M1 42h1v1h-1z" fill="#37587b"/>
<path d="M2 42h1v1h-1z" fill="#395877"/>
<path d="M3 42h1v1h-1z" fill="#47627f"/>
<path d="M4 42h1v1h-1z" fill="#677893"/>
<path d="M5 42h1v1h-1z" fill="#8790a1"/>
<path d="M6 42h1v1h-1z" fill="#9ba0ab"/>
<path d="M7 42h1v1h-1z" fill="#7d94a7"/>
<path d="M8 42h1v1h-1z" fill="#537c9b"/>
<path d="M9 42h1v1h-1z" fill="#417297"/>
<path d="M10 42h1v1h-1z" fill="#3d7097"/>
<path d="M11 42h1v1h-1z" fill="#306697"/>
<path d="M12 42h1v1h-1z" fill="#316899"/>
<path d="M13 42h1v1h-1z" fill="#326a9b"/>
<path d="M14 42h1v1h-1z" fill="#326c9d"/>
<path d="M15 42h1v1h-1z" fill="#336e9f"/>
<path d="M16 42h5v1h-5z" fill="#3774a3"/>
<path d="M0 43h1v1h-1z" fill="#37587f"/>
<path d="M1 43h2v1h-2z" fill="#37587b"/>
<path d="M3 43h1v1h-1z" fill="#42607f"/>
<path d="M4 43h1v1h-1z" fill="#4d6881"/>
<path d="M5 43h1v1h-1z" fill="#77849b"/>
<path d="M6 43h1v1h-1z" fill="#959cab"/>
<path d="M7 43h1v1h-1z" fill="#939ca7"/>
<path d="M8 43h1v1h-1z" fill="#61849f"/>
<path d="M9 43h1v1h-1z" fill="#477699"/>
<path d="M10 43h1v1h-1z" fill="#417297"/>
<path d="M11 43h1v1h-1z" fill="#356a99"/>
<path d="M12 43h1v1h-1z" fill="#356c9a"/>
<path d="M13 43h1v1h-1z" fill="#356d9c"/>
<path d="M14 43h1v1h-1z" fill="#356e9e"/>
<path d="M15 43h1v1h-1z" fill="#35709f"/>
<path d="M16 43h5v1h-5z" fill="#3774a3"/>
<path d="M0 44h1v1h-1z" fill="#33567d"/>
<path d="M1 44h2v1h-2z" fill="#335481"/>
<path d="M3 44h1v1h-1z" fill="#33567b"/>
<path d="M4 44h1v1h-1z" fill="#375a77"/>
<path d="M5 44h1v1h-1z" fill="#537085"/>
<path d="M6 44h1v1h-1z" fill="#7788a5"/>
<path d="M7 44h1v1h-1z" fill="#919aa5"/>
<path d="M8 44h1v1h-1z" fill="#919ea5"/>
<path d="M9 44h1v1h-1z" fill="#5d849f"/>
<path d="M10 44h1v1h-1z" fill="#477899"/>
<path d="M11 44h1v1h-1z" fill="#3d7097"/>
<path d="M12 44h1v1h-1z" fill="#356a99"/>
<path d="M13 44h1v1h-1z" fill="#356c9a"/>
<path d="M14 44h1v1h-1z" fill="#356d9c"/>
<path d="M15 44h1v1h-1z" fill="#356e9e"/>
<path d="M16 44h1v1h-1z" fill="#35709f"/>
<path d="M17 44h4v1h-4z" fill="#3776a3"/>
<path d="M0 45h1v1h-1z" fill="#2d527f"/>
<path d="M1 45h3v1h-3z" fill="#335481"/>
<path d="M4 45h1v1h-1z" fill="#375877"/>
<path d="M5 45h1v1h-1z" fill="#4c6683"/>
<path d="M6 45h1v1h-1z" fill="#617c9b"/>
<path d="M7 45h1v1h-1z" fill="#8794a5"/>
<path d="M8 45h1v1h-1z" fill="#939ea7"/>
<path d="M9 45h1v1h-1z" fill="#7d92a3"/>
<path d="M10 45h1v1h-1z" fill="#5d84a5"/>
<path d="M11 45h1v1h-1z" fill="#47789b"/>
<path d="M12 45h1v1h-1z" fill="#3c6e97"/>
<path d="M13 45h1v1h-1z" fill="#356a99"/>
<path d="M14 45h1v1h-1z" fill="#356b9a"/>
<path d="M15 45h1v1h-1z" fill="#356d9b"/>
<path d="M16 45h1v1h-1z" fill="#356e9c"/>
<path d="M17 45h1v1h-1z" fill="#35709e"/>
<path d="M18 45h1v1h-1z" fill="#35719f"/>
<path d="M19 45h1v1h-1z" fill="#3573a0"/>
<path d="M20 45h1v1h-1z" fill="#3574a1"/>
<path d="M0 46h1v1h-1z" fill="#355181"/>
<path d="M1 46h2v1h-2z" fill="#315081"/>
<path d="M3 46h1v1h-1z" fill="#33567d"/>
<path d="M4 46h1v1h-1z" fill="#335675"/>
<path d="M5 46h1v1h-1z" fill="#42607b"/>
<path d="M6 46h1v1h-1z" fill="#4c6683"/>
<path d="M7 46h1v1h-1z" fill="#677e99"/>
<path d="M8 46h1v1h-1z" fill="#8190a1"/>
<path d="M9 46h1v1h-1z" fill="#8b94a5"/>
<path d="M10 46h1v1h-1z" fill="#8794ab"/>
<path d="M11 46h1v1h-1z" fill="#5d84a5"/>
<path d="M12 46h1v1h-1z" fill="#47789b"/>
<path d="M13 46h1v1h-1z" fill="#3c6e97"/>
<path d="M14 46h1v1h-1z" fill="#336899"/>
<path d="M15 46h1v1h-1z" fill="#33699a"/>
<path d="M16 46h1v1h-1z" fill="#336b9b"/>
<path d="M17 46h1v1h-1z" fill="#336c9c"/>
<path d="M18 46h1v1h-1z" fill="#336d9d"/>
<path d="M19 46h1v1h-1z" fill="#336f9e"/>
<path d="M20 46h1v1h-1z" fill="#33709f"/>
<path d="M0 47h1v1h-1z" fill="#335281"/>
<path d="M1 47h2v1h-2z" fill="#315081"/>
<path d="M3 47h1v1h-1z" fill="#335481"/>
<path d="M4 47h1v1h-1z" fill="#375877"/>
<path d="M5 47h1v1h-1z" fill="#3d5879"/>
<path d="M6 47h1v1h-1z" fill="#455a81"/>
<path d="M7 47h1v1h-1z" fill="#637895"/>
<path d="M8 47h1v1h-1z" fill="#7b8c9b"/>
<path d="M9 47h1v1h-1z" fill="#999cab"/>
<path d="M10 47h1v1h-1z" fill="#a5acbf"/>
<path d="M11 47h1v1h-1z" fill="#6d90af"/>
<path d="M12 47h1v1h-1z" fill="#5380a3"/>
<path d="M13 47h1v1h-1z" fill="#3c7099"/>
<path d="M14 47h1v1h-1z" fill="#336899"/>
<path d="M15 47h1v1h-1z" fill="#33699a"/>
<path d="M16 47h1v1h-1z" fill="#336a9b"/>
<path d="M17 47h1v1h-1z" fill="#336b9c"/>
<path d="M18 47h1v1h-1z" fill="#336c9d"/>
<path d="M19 47h1v1h-1z" fill="#336d9e"/>
<path d="M20 47h1v1h-1z" fill="#336e9f"/>
<path d="M0 48h1v1h-1z" fill="#335281"/>
<path d="M1 48h1v1h-1z" fill="#2c507f"/>
<path d="M2 48h1v1h-1z" fill="#335281"/>
<path d="M3 48h3v1h-3z" fill="#375481"/>
<path d="M6 48h1v1h-1z" fill="#42547f"/>
<path d="M7 48h1v1h-1z" fill="#5d7191"/>
<path d="M8 48h1v1h-1z" fill="#7b8a9b"/>
<path d="M9 48h1v1h-1z" fill="#9da0af"/>
<path d="M10 48h1v1h-1z" fill="#cdc4d3"/>
<path d="M11 48h1v1h-1z" fill="#8da0bf"/>
<path d="M12 48h1v1h-1z" fill="#5d84a7"/>
<path d="M13 48h1v1h-1z" fill="#45749f"/>
<path d="M14 48h1v1h-1z" fill="#336899"/>
<path d="M15 48h3v1h-3z" fill="#336497"/>
<path d="M18 48h1v1h-1z" fill="#316699"/>
<path d="M19 48h2v1h-2z" fill="#336e9f"/>
<path d="M0 49h1v1h-1z" fill="#32527f"/>
<path d="M1 49h1v1h-1z" fill="#2f5281"/>
<path d="M2 49h4v1h-4z" fill="#37567f"/>
<path d="M6 49h1v1h-1z" fill="#3c5681"/>
<path d="M7 49h1v1h-1z" fill="#637695"/>
<path d="M8 49h1v1h-1z" fill="#7d849f"/>
<path d="M9 49h1v1h-1z" fill="#a7acbb"/>
<path d="M10 49h1v1h-1z" fill="#dadadf"/>
<path d="M11 49h1v1h-1z" fill="#b1bccb"/>
<path d="M12 49h1v1h-1z" fill="#6788af"/>
<path d="M13 49h1v1h-1z" fill="#5d84ab"/>
<path d="M14 49h1v1h-1z" fill="#3c6a9b"/>
<path d="M15 49h4v1h-4z" fill="#316095"/>
<path d="M19 49h2v1h-2z" fill="#33689b"/>
<path d="M0 50h1v1h-1z" fill="#3b567b"/>
<path d="M1 50h3v1h-3z" fill="#355481"/>
<path d="M4 50h3v1h-3z" fill="#37587f"/>
<path d="M7 50h1v1h-1z" fill="#617297"/>
<path d="M8 50h1v1h-1z" fill="#8984a1"/>
<path d="M9 50h1v1h-1z" fill="#bdbcc3"/>
<path d="M10 50h1v1h-1z" fill="#eeefeb"/>
<path d="M11 50h1v1h-1z" fill="#dadada"/>
<path d="M12 50h1v1h-1z" fill="#adb4d3"/>
<path d="M13 50h1v1h-1z" fill="#6d90b7"/>
<path d="M14 50h1v1h-1z" fill="#436a9d"/>
<path d="M15 50h1v1h-1z" fill="#356297"/>
<path d="M16 50h2v1h-2z" fill="#2c568f"/>
<path d="M18 50h1v1h-1z" fill="#2d5c93"/>
<path d="M19 50h2v1h-2z" fill="#316499"/>
<path d="M0 51h1v1h-1z" fill="#39587b"/>
<path d="M1 51h1v1h-1z" fill="#2d5481"/>
<path d="M2 51h1v1h-1z" fill="#37567f"/>
<path d="M3 51h3v1h-3z" fill="#355881"/>
<path d="M6 51h1v1h-1z" fill="#425a81"/>
<path d="M7 51h1v1h-1z" fill="#617497"/>
<path d="M8 51h1v1h-1z" fill="#7d84a3"/>
<path d="M9 51h1v1h-1z" fill="#adb0c3"/>
<path d="M10 51h1v1h-1z" fill="#ebe7e5"/>
<path d="M11 51h1v1h-1z" fill="#efe7e6"/>
<path d="M12 51h1v1h-1z" fill="#dadee7"/>
<path d="M13 51h1v1h-1z" fill="#97accb"/>
<path d="M14 51h1v1h-1z" fill="#6184af"/>
<path d="M15 51h1v1h-1z" fill="#47709f"/>
<path d="M16 51h1v1h-1z" fill="#356297"/>
<path d="M17 51h4v1h-4z" fill="#2d5c93"/>
<path d="M0 52h1v1h-1z" fill="#375879"/>
<path d="M1 52h3v1h-3z" fill="#35567d"/>
<path d="M4 52h1v1h-1z" fill="#2f5481"/>
<path d="M5 52h1v1h-1z" fill="#475a7f"/>
<path d="M6 52h1v1h-1z" fill="#535e85"/>
<path d="M7 52h1v1h-1z" fill="#677697"/>
<path d="M8 52h1v1h-1z" fill="#7d8ca7"/>
<path d="M9 52h1v1h-1z" fill="#a5acc3"/>
<path d="M10 52h1v1h-1z" fill="#e6dae3"/>
<path d="M11 52h1v1h-1z" fill="#f4ebef"/>
<path d="M12 52h1v1h-1z" fill="#fcfeff"/>
<path d="M13 52h1v1h-1z" fill="#c6d5e1"/>
<path d="M14 52h1v1h-1z" fill="#8da4c7"/>
<path d="M15 52h1v1h-1z" fill="#5d84af"/>
<path d="M16 52h1v1h-1z" fill="#4774a3"/>
<path d="M17 52h1v1h-1z" fill="#37669b"/>
<path d="M18 52h3v1h-3z" fill="#2f5c95"/>
<path d="M0 53h1v1h-1z" fill="#375877"/>
<path d="M1 53h1v1h-1z" fill="#375879"/>
<path d="M2 53h3v1h-3z" fill="#335679"/>
<path d="M5 53h1v1h-1z" fill="#455e81"/>
<path d="M6 53h1v1h-1z" fill="#576487"/>
<path d="M7 53h1v1h-1z" fill="#677895"/>
<path d="M8 53h1v1h-1z" fill="#6d849f"/>
<path d="M9 53h1v1h-1z" fill="#8da0b7"/>
<path d="M10 53h1v1h-1z" fill="#c9c8d3"/>
<path d="M11 53h1v1h-1z" fill="#e7e3e9"/>
<path d="M12 53h1v1h-1z" fill="#fefeff"/>
<path d="M13 53h1v1h-1z" fill="#ebe7ee"/>
<path d="M14 53h1v1h-1z" fill="#b5c4db"/>
<path d="M15 53h1v1h-1z" fill="#87a4c3"/>
<path d="M16 53h1v1h-1z" fill="#5784ab"/>
<path d="M17 53h1v1h-1z" fill="#4778a3"/>
<path d="M18 53h1v1h-1z" fill="#376a9d"/>
<path d="M19 53h2v1h-2z" fill="#336699"/>
<path d="M0 54h1v1h-1z" fill="#355875"/>
<path d="M1 54h4v1h-4z" fill="#375877"/>
<path d="M5 54h1v1h-1z" fill="#47607f"/>
<path d="M6 54h1v1h-1z" fill="#5b6887"/>
<path d="M7 54h1v1h-1z" fill="#617491"/>
<path d="M8 54h1v1h-1z" fill="#61829d"/>
<path d="M9 54h1v1h-1z" fill="#8798ab"/>
<path d="M10 54h1v1h-1z" fill="#b5b4c3"/>
<path d="M11 54h1v1h-1z" fill="#d6d5e2"/>
<path d="M12 54h2v1h-2z" fill="#fef8ff"/>
<path d="M14 54h1v1h-1z" fill="#f8f4fc"/>
<path d="M15 54h1v1h-1z" fill="#b9ccdb"/>
<path d="M16 54h1v1h-1z" fill="#87a4bf"/>
<path d="M17 54h1v1h-1z" fill="#658caf"/>
<path d="M18 54h1v1h-1z" fill="#4778a3"/>
<path d="M19 54h1v1h-1z" fill="#3d749f"/>
<path d="M20 54h1v1h-1z" fill="#3c729b"/>
<path d="M0 55h1v1h-1z" fill="#375a77"/>
<path d="M1 55h3v1h-3z" fill="#395a79"/>
<path d="M4 55h1v1h-1z" fill="#42607b"/>
<path d="M5 55h1v1h-1z" fill="#4d647f"/>
<path d="M6 55h1v1h-1z" fill="#576887"/>
<path d="M7 55h1v1h-1z" fill="#5b708d"/>
<path d="M8 55h1v1h-1z" fill="#5b7691"/>
<path d="M9 55h1v1h-1z" fill="#71849b"/>
<path d="M10 55h1v1h-1z" fill="#8998ab"/>
<path d="M11 55h1v1h-1z" fill="#9dacc3"/>
<path d="M12 55h1v1h-1z" fill="#cdccd8"/>
<path d="M13 55h1v1h-1z" fill="#e6dae3"/>
<path d="M14 55h1v1h-1z" fill="#efebf2"/>
<path d="M15 55h1v1h-1z" fill="#e7e3e9"/>
<path d="M16 55h1v1h-1z" fill="#cad5dd"/>
<path d="M17 55h1v1h-1z" fill="#9db8cb"/>
<path d="M18 55h1v1h-1z" fill="#6798bb"/>
<path d="M19 55h1v1h-1z" fill="#6594b7"/>
<path d="M20 55h1v1h-1z" fill="#4784ab"/>
<path d="M1 56h1v1h-1z" fill="#053c7f"/>
<path d="M2 56h1v1h-1z" fill="#3c6087"/>
<path d="M3 56h1v1h-1z" fill="#3c6287"/>
<path d="M4 56h1v1h-1z" fill="#476885"/>
<path d="M5 56h1v1h-1z" fill="#536a87"/>
<path d="M6 56h1v1h-1z" fill="#576889"/>
<path d="M7 56h1v1h-1z" fill="#576c89"/>
<path d="M8 56h1v1h-1z" fill="#597089"/>
<path d="M9 56h1v1h-1z" fill="#5f768d"/>
<path d="M10 56h1v1h-1z" fill="#6b8093"/>
<path d="M11 56h1v1h-1z" fill="#7988a3"/>
<path d="M12 56h1v1h-1z" fill="#9598b7"/>
<path d="M13 56h1v1h-1z" fill="#bdbccf"/>
<path d="M14 56h1v1h-1z" fill="#dadae3"/>
<path d="M15 56h1v1h-1z" fill="#ebe7ee"/>
<path d="M16 56h1v1h-1z" fill="#f8f4fc"/>
<path d="M17 56h1v1h-1z" fill="#dfe7ed"/>
<path d="M18 56h1v1h-1z" fill="#b5ccdf"/>
<path d="M19 56h1v1h-1z" fill="#8db4cb"/>
<path d="M20 56h1v1h-1z" fill="#619cc3"/>
</g>
<g fill="#000"><circle cx="239.4" cy="273.2" r="1.6"/><circle cx="235.3" cy="279.3" r="1.6"/><circle cx="228.2" cy="294.3" r="1.6"/><circle cx="223.3" cy="315.2" r="1.6"/><circle cx="221.3" cy="336.5" r="1.6"/><circle cx="220.3" cy="357.3" r="1.6"/><circle cx="232.3" cy="378.2" r="1.6"/><circle cx="235.3" cy="383.4" r="1.6"/><circle cx="248.4" cy="399.1" r="1.6"/><circle cx="256.4" cy="410.3" r="1.6"/><circle cx="259.4" cy="420.4" r="1.6"/><circle cx="263.3" cy="441.3" r="1.6"/><circle cx="267.4" cy="461.5" r="1.6"/><circle cx="274.5" cy="482.4" r="1.6"/><circle cx="273.4" cy="503.5" r="1.6"/><circle cx="274.5" cy="524.3" r="1.6"/><circle cx="269.3" cy="545.4" r="1.6"/><circle cx="266.3" cy="566.3" r="1.6"/><circle cx="263.3" cy="587.3" r="1.6"/><circle cx="260.3" cy="608.2" r="1.6"/><circle cx="256.4" cy="619.2" r="1.6"/><circle cx="249.3" cy="629.3" r="1.6"/><circle cx="235.3" cy="643.3" r="1.6"/><circle cx="231.2" cy="650.2" r="1.6"/><circle cx="221.3" cy="671.2" r="1.6"/><circle cx="215.3" cy="692.1" r="1.6"/><circle cx="214.2" cy="697.3" r="1.6"/><circle cx="207.4" cy="713.3" r="1.6"/><circle cx="197.2" cy="734.2" r="1.6"/><circle cx="193.4" cy="745.4" r="1.6"/><circle cx="189.3" cy="755.3" r="1.6"/><circle cx="178.3" cy="776.4" r="1.6"/><circle cx="172.3" cy="790.3" r="1.6"/><circle cx="168.4" cy="797.4" r="1.6"/><circle cx="154.2" cy="818.3" r="1.6"/><circle cx="151.2" cy="831.2" r="1.6"/><circle cx="150.4" cy="839.4" r="1.6"/><circle cx="146.3" cy="860.3" r="1.6"/><circle cx="151.2" cy="869.3" r="1.6"/><circle cx="164.3" cy="880.3" r="1.6"/><circle cx="172.3" cy="895.3" r="1.6"/><circle cx="173.4" cy="901.3" r="1.6"/><circle cx="179.4" cy="922.2" r="1.6"/><circle cx="184.3" cy="943.3" r="1.6"/><circle cx="193.4" cy="964.9" r="1.6"/><circle cx="203.4" cy="985.4" r="1.6"/><circle cx="214.2" cy="993.2" r="1.6"/><circle cx="226.3" cy="1006.3" r="1.6"/><circle cx="235.4" cy="1022.2" r="1.6"/><circle cx="240.4" cy="1027.2" r="1.6"/><circle cx="256.3" cy="1039.3" r="1.6"/><circle cx="260.3" cy="1048.4" r="1.6"/><circle cx="263.3" cy="1069.3" r="1.6"/><circle cx="277.2" cy="1087.4" r="1.6"/><circle cx="286.3" cy="1090.4" r="1.6"/><circle cx="298.3" cy="1099.2" r="1.6"/><circle cx="302.4" cy="1111.3" r="1.6"/><circle cx="318.7" cy="1132.7" r="1.6"/><circle cx="334.3" cy="1153.4" r="1.6"/><circle cx="340.4" cy="1157.4" r="1.6"/><circle cx="354.2" cy="1174.2" r="1.6"/><circle cx="361.3" cy="1185.3" r="1.6"/><circle cx="376.1" cy="1195.4" r="1.6"/><circle cx="382.2" cy="1198.2" r="1.6"/><circle cx="400.6" cy="1216.3" r="1.6"/></g>
<g transform="translate(873.0 52.9) scale(20.95238 20.94655)" shape-rendering="crispEdges">
<path d="M0 0h21v1h-21z" fill="#bc6898"/>
<path d="M0 1h21v1h-21z" fill="#bc6898"/>
<path d="M0 2h21v1h-21z" fill="#bc6898"/>
<path d="M0 3h21v1h-21z" fill="#bc6898"/>
<path d="M0 4h21v1h-21z" fill="#bc6898"/>
<path d="M0 5h21v1h-21z" fill="#bc6898"/>
<path d="M0 6h21v1h-21z" fill="#bc6898"/>
<path d="M0 7h6v1h-6z" fill="#562498"/>
<path d="M6 7h15v1h-15z" fill="#bc6898"/>
<path d="M0 8h6v1h-6z" fill="#562498"/>
<path d="M6 8h15v1h-15z" fill="#bc6898"/>
<path d="M0 9h8v1h-8z" fill="#562498"/>
<path d="M8 9h1v1h-1z" fill="#9d487e"/>
<path d="M9 9h1v1h-1z" fill="#944076"/>
<path d="M10 9h1v1h-1z" fill="#8c3c74"/>
<path d="M11 9h5v1h-5z" fill="#562498"/>
<path d="M16 9h5v1h-5z" fill="#bc6898"/>
<path d="M0 10h3v1h-3z" fill="#562498"/>
<path d="M3 10h1v1h-1z" fill="#7f3876"/>
<path d="M4 10h3v1h-3z" fill="#562498"/>
<path d="M7 10h2v1h-2z" fill="#bc3a4a"/>
<path d="M9 10h1v1h-1z" fill="#8c3e77"/>
<path d="M10 10h6v1h-6z" fill="#562498"/>
<path d="M16 10h5v1h-5z" fill="#bc6898"/>
<path d="M0 11h1v1h-1z" fill="#562498"/>
<path d="M1 11h1v1h-1z" fill="#7a3373"/>
<path d="M2 11h1v1h-1z" fill="#893a73"/>
<path d="M3 11h1v1h-1z" fill="#8b3a74"/>
<path d="M4 11h1v1h-1z" fill="#8a3a74"/>
<path d="M5 11h1v1h-1z" fill="#8c3e77"/>
<path d="M6 11h1v1h-1z" fill="#94467b"/>
<path d="M7 11h2v1h-2z" fill="#bc3a4a"/>
<path d="M9 11h8v1h-8z" fill="#562498"/>
<path d="M17 11h1v1h-1z" fill="#863972"/>
<path d="M18 11h2v1h-2z" fill="#883971"/>
<path d="M20 11h1v1h-1z" fill="#873670"/>
<path d="M0 12h1v1h-1z" fill="#76306e"/>
<path d="M1 12h1v1h-1z" fill="#863771"/>
<path d="M2 12h2v1h-2z" fill="#8c3871"/>
<path d="M4 12h1v1h-1z" fill="#8c3971"/>
<path d="M5 12h1v1h-1z" fill="#8e3e75"/>
<path d="M6 12h1v1h-1z" fill="#96467a"/>
<path d="M7 12h2v1h-2z" fill="#bc3a4a"/>
<path d="M9 12h8v1h-8z" fill="#562498"/>
<path d="M17 12h1v1h-1z" fill="#7c3472"/>
<path d="M18 12h1v1h-1z" fill="#843670"/>
<path d="M19 12h1v1h-1z" fill="#863771"/>
<path d="M20 12h1v1h-1z" fill="#83366e"/>
<path d="M0 13h1v1h-1z" fill="#7e316d"/>
<path d="M1 13h1v1h-1z" fill="#82336f"/>
<path d="M2 13h1v1h-1z" fill="#843372"/>
<path d="M3 13h1v1h-1z" fill="#833570"/>
<path d="M4 13h1v1h-1z" fill="#843570"/>
<path d="M5 13h1v1h-1z" fill="#8b3c74"/>
<path d="M6 13h1v1h-1z" fill="#914277"/>
<path d="M7 13h1v1h-1z" fill="#a1487d"/>
<path d="M8 13h1v1h-1z" fill="#bc3a4a"/>
<path d="M9 13h12v1h-12z" fill="#562498"/>
<path d="M0 14h1v1h-1z" fill="#7c2e6b"/>
<path d="M1 14h1v1h-1z" fill="#7a2c6b"/>
<path d="M2 14h1v1h-1z" fill="#782a6c"/>
<path d="M3 14h1v1h-1z" fill="#792b6b"/>
<path d="M4 14h1v1h-1z" fill="#7a2c6b"/>
<path d="M5 14h1v1h-1z" fill="#843670"/>
<path d="M6 14h1v1h-1z" fill="#8d3e74"/>
<path d="M7 14h1v1h-1z" fill="#9d457b"/>
<path d="M8 14h1v1h-1z" fill="#9e457f"/>
<path d="M9 14h12v1h-12z" fill="#562498"/>
<path d="M0 15h1v1h-1z" fill="#772a67"/>
<path d="M1 15h1v1h-1z" fill="#782a68"/>
<path d="M2 15h1v1h-1z" fill="#772969"/>
<path d="M3 15h1v1h-1z" fill="#782b69"/>
<path d="M4 15h1v1h-1z" fill="#792b69"/>
<path d="M5 15h1v1h-1z" fill="#7d306d"/>
<path d="M6 15h1v1h-1z" fill="#863771"/>
<path d="M7 15h1v1h-1z" fill="#96427a"/>
<path d="M8 15h1v1h-1z" fill="#9d447e"/>
<path d="M9 15h1v1h-1z" fill="#904178"/>
<path d="M10 15h11v1h-11z" fill="#562498"/>
<path d="M0 16h1v1h-1z" fill="#742966"/>
<path d="M1 16h1v1h-1z" fill="#762967"/>
<path d="M2 16h1v1h-1z" fill="#772a68"/>
<path d="M3 16h1v1h-1z" fill="#772967"/>
<path d="M4 16h1v1h-1z" fill="#762967"/>
<path d="M5 16h1v1h-1z" fill="#772968"/>
<path d="M6 16h1v1h-1z" fill="#7a2e6f"/>
<path d="M7 16h1v1h-1z" fill="#8c3e77"/>
<path d="M8 16h1v1h-1z" fill="#96467c"/>
<path d="M9 16h1v1h-1z" fill="#96457a"/>
<path d="M10 16h11v1h-11z" fill="#562498"/>
<path d="M0 17h1v1h-1z" fill="#762a67"/>
<path d="M1 17h1v1h-1z" fill="#772a68"/>
<path d="M2 17h1v1h-1z" fill="#782a68"/>
<path d="M3 17h1v1h-1z" fill="#772865"/>
<path d="M4 17h1v1h-1z" fill="#762865"/>
<path d="M5 17h1v1h-1z" fill="#782a68"/>
<path d="M6 17h1v1h-1z" fill="#7a2c6b"/>
<path d="M7 17h1v1h-1z" fill="#853671"/>
<path d="M8 17h1v1h-1z" fill="#903f77"/>
<path d="M9 17h1v1h-1z" fill="#944076"/>
<path d="M10 17h1v1h-1z" fill="#944178"/>
<path d="M11 17h10v1h-10z" fill="#562498"/>
<path d="M0 18h1v1h-1z" fill="#7a2b68"/>
<path d="M1 18h1v1h-1z" fill="#782a68"/>
<path d="M2 18h1v1h-1z" fill="#772966"/>
<path d="M3 18h1v1h-1z" fill="#762864"/>
<path d="M4 18h1v1h-1z" fill="#742763"/>
<path d="M5 18h1v1h-1z" fill="#752764"/>
<path d="M6 18h1v1h-1z" fill="#762866"/>
<path d="M7 18h1v1h-1z" fill="#7c2e6c"/>
<path d="M8 18h1v1h-1z" fill="#813372"/>
<path d="M9 18h1v1h-1z" fill="#8a3a73"/>
<path d="M10 18h1v1h-1z" fill="#904075"/>
<path d="M11 18h1v1h-1z" fill="#8c4077"/>
<path d="M12 18h9v1h-9z" fill="#562498"/>
<path d="M0 19h1v1h-1z" fill="#7a2c68"/>
<path d="M1 19h1v1h-1z" fill="#772a67"/>
<path d="M2 19h1v1h-1z" fill="#742762"/>
<path d="M3 19h2v1h-2z" fill="#742763"/>
<path d="M5 19h1v1h-1z" fill="#742764"/>
<path d="M6 19h1v1h-1z" fill="#752865"/>
<path d="M7 19h1v1h-1z" fill="#772a68"/>
<path d="M8 19h1v1h-1z" fill="#7a2d6c"/>
<path d="M9 19h1v1h-1z" fill="#83356f"/>
<path d="M10 19h1v1h-1z" fill="#8e3e73"/>
<path d="M11 19h1v1h-1z" fill="#8b3d74"/>
<path d="M12 19h9v1h-9z" fill="#562498"/>
<path d="M0 20h1v1h-1z" fill="#7b2c68"/>
<path d="M1 20h1v1h-1z" fill="#762a66"/>
<path d="M2 20h3v1h-3z" fill="#732662"/>
<path d="M5 20h2v1h-2z" fill="#722563"/>
<path d="M7 20h1v1h-1z" fill="#722664"/>
<path d="M8 20h1v1h-1z" fill="#742764"/>
<path d="M9 20h1v1h-1z" fill="#7f316c"/>
<path d="M10 20h1v1h-1z" fill="#8c3a71"/>
<path d="M11 20h1v1h-1z" fill="#8a3c72"/>
<path d="M12 20h9v1h-9z" fill="#562498"/>
<path d="M0 21h1v1h-1z" fill="#772865"/>
<path d="M1 21h1v1h-1z" fill="#742764"/>
<path d="M2 21h1v1h-1z" fill="#732663"/>
<path d="M3 21h2v1h-2z" fill="#722663"/>
<path d="M5 21h1v1h-1z" fill="#722563"/>
<path d="M6 21h1v1h-1z" fill="#702464"/>
<path d="M7 21h1v1h-1z" fill="#722664"/>
<path d="M8 21h1v1h-1z" fill="#732763"/>
<path d="M9 21h1v1h-1z" fill="#7c2f68"/>
<path d="M10 21h1v1h-1z" fill="#8b3a70"/>
<path d="M11 21h1v1h-1z" fill="#8a3c72"/>
<path d="M12 21h9v1h-9z" fill="#562498"/>
<path d="M0 22h1v1h-1z" fill="#742665"/>
<path d="M1 22h1v1h-1z" fill="#722664"/>
<path d="M2 22h1v1h-1z" fill="#702663"/>
<path d="M3 22h2v1h-2z" fill="#712663"/>
<path d="M5 22h1v1h-1z" fill="#702463"/>
<path d="M6 22h1v1h-1z" fill="#702564"/>
<path d="M7 22h1v1h-1z" fill="#702562"/>
<path d="M8 22h1v1h-1z" fill="#702662"/>
<path d="M9 22h1v1h-1z" fill="#792d68"/>
<path d="M10 22h1v1h-1z" fill="#87366e"/>
<path d="M11 22h1v1h-1z" fill="#883a72"/>
<path d="M12 22h9v1h-9z" fill="#562498"/>
<path d="M0 23h1v1h-1z" fill="#742664"/>
<path d="M1 23h4v1h-4z" fill="#712663"/>
<path d="M5 23h4v1h-4z" fill="#6f2460"/>
<path d="M9 23h1v1h-1z" fill="#782c68"/>
<path d="M10 23h1v1h-1z" fill="#84346f"/>
<path d="M11 23h1v1h-1z" fill="#863772"/>
<path d="M12 23h9v1h-9z" fill="#562498"/>
<path d="M0 24h1v1h-1z" fill="#722662"/>
<path d="M1 24h4v1h-4z" fill="#712663"/>
<path d="M5 24h4v1h-4z" fill="#6e2460"/>
<path d="M9 24h1v1h-1z" fill="#782c68"/>
<path d="M10 24h1v1h-1z" fill="#813370"/>
<path d="M11 24h1v1h-1z" fill="#803674"/>
<path d="M12 24h9v1h-9z" fill="#562498"/>
<path d="M0 25h1v1h-1z" fill="#712661"/>
<path d="M1 25h1v1h-1z" fill="#712662"/>
<path d="M2 25h1v1h-1z" fill="#702463"/>
<path d="M3 25h1v1h-1z" fill="#702563"/>
<path d="M4 25h5v1h-5z" fill="#6f2461"/>
<path d="M9 25h1v1h-1z" fill="#7b2e68"/>
<path d="M10 25h1v1h-1z" fill="#813470"/>
<path d="M11 25h1v1h-1z" fill="#7e3674"/>
<path d="M12 25h9v1h-9z" fill="#562498"/>
<path d="M0 26h1v1h-1z" fill="#702762"/>
<path d="M1 26h1v1h-1z" fill="#712662"/>
<path d="M2 26h1v1h-1z" fill="#6e2264"/>
<path d="M3 26h1v1h-1z" fill="#702463"/>
<path d="M4 26h4v1h-4z" fill="#6e2462"/>
<path d="M8 26h1v1h-1z" fill="#712763"/>
<path d="M9 26h1v1h-1z" fill="#7c2e68"/>
<path d="M10 26h1v1h-1z" fill="#813571"/>
<path d="M11 26h10v1h-10z" fill="#562498"/>
<path d="M0 27h1v1h-1z" fill="#702661"/>
<path d="M1 27h1v1h-1z" fill="#712662"/>
<path d="M2 27h1v1h-1z" fill="#6e2364"/>
<path d="M3 27h1v1h-1z" fill="#6e2463"/>
<path d="M4 27h4v1h-4z" fill="#712662"/>
<path d="M8 27h1v1h-1z" fill="#782c66"/>
<path d="M9 27h1v1h-1z" fill="#7d3068"/>
<path d="M10 27h1v1h-1z" fill="#793370"/>
<path d="M11 27h10v1h-10z" fill="#562498"/>
<path d="M0 28h1v1h-1z" fill="#702660"/>
<path d="M1 28h5v1h-5z" fill="#6f2560"/>
<path d="M6 28h1v1h-1z" fill="#742864"/>
<path d="M7 28h1v1h-1z" fill="#7a2d68"/>
<path d="M8 28h1v1h-1z" fill="#7f3169"/>
<path d="M9 28h1v1h-1z" fill="#76306d"/>
<path d="M10 28h11v1h-11z" fill="#562498"/>
<path d="M0 29h1v1h-1z" fill="#722662"/>
<path d="M1 29h4v1h-4z" fill="#6f2560"/>
<path d="M5 29h1v1h-1z" fill="#732764"/>
<path d="M6 29h1v1h-1z" fill="#7b2b68"/>
<path d="M7 29h1v1h-1z" fill="#803269"/>
<path d="M8 29h1v1h-1z" fill="#82376c"/>
<path d="M9 29h12v1h-12z" fill="#562498"/>
<path d="M0 30h1v1h-1z" fill="#722662"/>
<path d="M1 30h4v1h-4z" fill="#6f2560"/>
<path d="M5 30h1v1h-1z" fill="#752965"/>
<path d="M6 30h1v1h-1z" fill="#7f2e6c"/>
<path d="M7 30h1v1h-1z" fill="#84366c"/>
<path d="M8 30h1v1h-1z" fill="#813a6f"/>
<path d="M9 30h12v1h-12z" fill="#562498"/>
<path d="M0 31h1v1h-1z" fill="#722662"/>
<path d="M1 31h1v1h-1z" fill="#712661"/>
<path d="M2 31h3v1h-3z" fill="#702661"/>
<path d="M5 31h1v1h-1z" fill="#782c68"/>
<path d="M6 31h1v1h-1z" fill="#82306c"/>
<path d="M7 31h1v1h-1z" fill="#86376d"/>
<path d="M8 31h1v1h-1z" fill="#7f3870"/>
<path d="M9 31h12v1h-12z" fill="#562498"/>
<path d="M0 32h1v1h-1z" fill="#742764"/>
<path d="M1 32h1v1h-1z" fill="#722662"/>
<path d="M2 32h1v1h-1z" fill="#6e2561"/>
<path d="M3 32h2v1h-2z" fill="#6f2662"/>
<path d="M5 32h1v1h-1z" fill="#7f316c"/>
<path d="M6 32h1v1h-1z" fill="#883670"/>
<path d="M7 32h1v1h-1z" fill="#87386e"/>
<path d="M8 32h13v1h-13z" fill="#562498"/>
<path d="M0 33h1v1h-1z" fill="#742764"/>
<path d="M1 33h1v1h-1z" fill="#722662"/>
<path d="M2 33h1v1h-1z" fill="#6e2661"/>
<path d="M3 33h1v1h-1z" fill="#722863"/>
<path d="M4 33h1v1h-1z" fill="#772d66"/>
<path d="M5 33h1v1h-1z" fill="#8a3a70"/>
<path d="M6 33h1v1h-1z" fill="#8c3873"/>
<path d="M7 33h1v1h-1z" fill="#793470"/>
<path d="M8 33h13v1h-13z" fill="#562498"/>
<path d="M0 34h1v1h-1z" fill="#722664"/>
<path d="M1 34h1v1h-1z" fill="#6e2562"/>
<path d="M2 34h1v1h-1z" fill="#6c2360"/>
<path d="M3 34h1v1h-1z" fill="#762d66"/>
<path d="M4 34h1v1h-1z" fill="#7b3068"/>
<path d="M5 34h1v1h-1z" fill="#8c3a71"/>
<path d="M6 34h1v1h-1z" fill="#8e3a73"/>
<path d="M7 34h14v1h-14z" fill="#562498"/>
<path d="M0 35h1v1h-1z" fill="#712766"/>
<path d="M1 35h1v1h-1z" fill="#6c2564"/>
<path d="M2 35h1v1h-1z" fill="#722664"/>
<path d="M3 35h1v1h-1z" fill="#782d67"/>
<path d="M4 35h1v1h-1z" fill="#7c3268"/>
<path d="M5 35h1v1h-1z" fill="#8c3b71"/>
<path d="M6 35h1v1h-1z" fill="#8c3d74"/>
<path d="M7 35h14v1h-14z" fill="#562498"/>
<path d="M0 36h1v1h-1z" fill="#712766"/>
<path d="M1 36h1v1h-1z" fill="#6c2564"/>
<path d="M2 36h1v1h-1z" fill="#732564"/>
<path d="M3 36h1v1h-1z" fill="#792d68"/>
<path d="M4 36h1v1h-1z" fill="#7f336b"/>
<path d="M5 36h1v1h-1z" fill="#8a3a71"/>
<path d="M6 36h15v1h-15z" fill="#562498"/>
<path d="M0 37h1v1h-1z" fill="#722864"/>
<path d="M1 37h1v1h-1z" fill="#742765"/>
<path d="M2 37h1v1h-1z" fill="#732465"/>
<path d="M3 37h1v1h-1z" fill="#792d69"/>
<path d="M4 37h1v1h-1z" fill="#82366c"/>
<path d="M5 37h1v1h-1z" fill="#8b3b72"/>
<path d="M6 37h15v1h-15z" fill="#562498"/>
<path d="M0 38h1v1h-1z" fill="#742a65"/>
<path d="M1 38h1v1h-1z" fill="#752a66"/>
<path d="M2 38h1v1h-1z" fill="#752667"/>
<path d="M3 38h1v1h-1z" fill="#7f306c"/>
<path d="M4 38h1v1h-1z" fill="#8c3c70"/>
<path d="M5 38h1v1h-1z" fill="#8c3c72"/>
<path d="M6 38h15v1h-15z" fill="#562498"/>
<path d="M0 39h1v1h-1z" fill="#742966"/>
<path d="M1 39h1v1h-1z" fill="#772a67"/>
<path d="M2 39h1v1h-1z" fill="#762667"/>
<path d="M3 39h1v1h-1z" fill="#7f316c"/>
<path d="M4 39h1v1h-1z" fill="#8c3c71"/>
<path d="M5 39h1v1h-1z" fill="#8c3c72"/>
<path d="M6 39h15v1h-15z" fill="#562498"/>
<path d="M0 40h1v1h-1z" fill="#762965"/>
<path d="M1 40h1v1h-1z" fill="#742967"/>
<path d="M2 40h1v1h-1z" fill="#742768"/>
<path d="M3 40h1v1h-1z" fill="#7c326d"/>
<path d="M4 40h1v1h-1z" fill="#8c3b72"/>
<path d="M5 40h1v1h-1z" fill="#8c3d73"/>
<path d="M6 40h1v1h-1z" fill="#8b4078"/>
<path d="M7 40h14v1h-14z" fill="#562498"/>
<path d="M0 41h1v1h-1z" fill="#702666"/>
<path d="M1 41h1v1h-1z" fill="#6b2565"/>
<path d="M2 41h1v1h-1z" fill="#6e2664"/>
<path d="M3 41h1v1h-1z" fill="#772c69"/>
<path d="M4 41h1v1h-1z" fill="#82346e"/>
<path d="M5 41h1v1h-1z" fill="#8c3d73"/>
<path d="M6 41h1v1h-1z" fill="#924277"/>
<path d="M7 41h14v1h-14z" fill="#562498"/>
<path d="M0 42h1v1h-1z" fill="#6c2565"/>
<path d="M1 42h1v1h-1z" fill="#6c2564"/>
<path d="M2 42h1v1h-1z" fill="#6c2562"/>
<path d="M3 42h1v1h-1z" fill="#722965"/>
<path d="M4 42h1v1h-1z" fill="#7f326d"/>
<path d="M5 42h1v1h-1z" fill="#8c3b73"/>
<path d="M6 42h1v1h-1z" fill="#944277"/>
<path d="M7 42h1v1h-1z" fill="#883d75"/>
<path d="M8 42h13v1h-13z" fill="#562498"/>
<path d="M0 43h1v1h-1z" fill="#6c2565"/>
<path d="M1 43h2v1h-2z" fill="#6c2564"/>
<path d="M3 43h1v1h-1z" fill="#702865"/>
<path d="M4 43h1v1h-1z" fill="#742b66"/>
<path d="M5 43h1v1h-1z" fill="#853670"/>
<path d="M6 43h1v1h-1z" fill="#914077"/>
<path d="M7 43h1v1h-1z" fill="#904075"/>
<path d="M8 43h13v1h-13z" fill="#562498"/>
<path d="M0 44h1v1h-1z" fill="#6a2464"/>
<path d="M1 44h2v1h-2z" fill="#6a2366"/>
<path d="M3 44h1v1h-1z" fill="#6a2464"/>
<path d="M4 44h1v1h-1z" fill="#6c2662"/>
<path d="M5 44h1v1h-1z" fill="#772e68"/>
<path d="M6 44h1v1h-1z" fill="#853874"/>
<path d="M7 44h1v1h-1z" fill="#903f74"/>
<path d="M8 44h1v1h-1z" fill="#904174"/>
<path d="M9 44h12v1h-12z" fill="#562498"/>
<path d="M0 45h1v1h-1z" fill="#682265"/>
<path d="M1 45h3v1h-3z" fill="#6a2366"/>
<path d="M4 45h1v1h-1z" fill="#6c2562"/>
<path d="M5 45h1v1h-1z" fill="#742a67"/>
<path d="M6 45h1v1h-1z" fill="#7c3370"/>
<path d="M7 45h1v1h-1z" fill="#8c3d74"/>
<path d="M8 45h1v1h-1z" fill="#904175"/>
<path d="M9 45h1v1h-1z" fill="#883c74"/>
<path d="M10 45h11v1h-11z" fill="#562498"/>
<path d="M0 46h1v1h-1z" fill="#6b2266"/>
<path d="M1 46h2v1h-2z" fill="#692266"/>
<path d="M3 46h1v1h-1z" fill="#6a2464"/>
<path d="M4 46h1v1h-1z" fill="#6a2461"/>
<path d="M5 46h1v1h-1z" fill="#702864"/>
<path d="M6 46h1v1h-1z" fill="#742a67"/>
<path d="M7 46h1v1h-1z" fill="#7f3470"/>
<path d="M8 46h1v1h-1z" fill="#893b73"/>
<path d="M9 46h1v1h-1z" fill="#8d3d74"/>
<path d="M10 46h1v1h-1z" fill="#8c3d77"/>
<path d="M11 46h10v1h-10z" fill="#562498"/>
<path d="M0 47h1v1h-1z" fill="#6a2266"/>
<path d="M1 47h2v1h-2z" fill="#692266"/>
<path d="M3 47h1v1h-1z" fill="#6a2366"/>
<path d="M4 47h1v1h-1z" fill="#6c2562"/>
<path d="M5 47h1v1h-1z" fill="#6e2563"/>
<path d="M6 47h1v1h-1z" fill="#712666"/>
<path d="M7 47h1v1h-1z" fill="#7d326e"/>
<path d="M8 47h1v1h-1z" fill="#873a70"/>
<path d="M9 47h1v1h-1z" fill="#934077"/>
<path d="M10 47h1v1h-1z" fill="#98467f"/>
<path d="M11 47h10v1h-10z" fill="#562498"/>
<path d="M0 48h1v1h-1z" fill="#6a2266"/>
<path d="M1 48h1v1h-1z" fill="#672265"/>
<path d="M2 48h1v1h-1z" fill="#6a2266"/>
<path d="M3 48h3v1h-3z" fill="#6c2366"/>
<path d="M6 48h1v1h-1z" fill="#702365"/>
<path d="M7 48h1v1h-1z" fill="#7b2f6c"/>
<path d="M8 48h1v1h-1z" fill="#873970"/>
<path d="M9 48h1v1h-1z" fill="#944278"/>
<path d="M10 48h2v1h-2z" fill="#bc3a4a"/>
<path d="M12 48h9v1h-9z" fill="#562498"/>
<path d="M0 49h1v1h-1z" fill="#6a2265"/>
<path d="M1 49h1v1h-1z" fill="#682266"/>
<path d="M2 49h4v1h-4z" fill="#6c2465"/>
<path d="M6 49h1v1h-1z" fill="#6e2466"/>
<path d="M7 49h1v1h-1z" fill="#7d316e"/>
<path d="M8 49h1v1h-1z" fill="#883672"/>
<path d="M9 49h1v1h-1z" fill="#98467d"/>
<path d="M10 49h2v1h-2z" fill="#bc3a4a"/>
<path d="M12 49h9v1h-9z" fill="#562498"/>
<path d="M0 50h1v1h-1z" fill="#6d2464"/>
<path d="M1 50h3v1h-3z" fill="#6b2366"/>
<path d="M4 50h3v1h-3z" fill="#6c2565"/>
<path d="M7 50h1v1h-1z" fill="#7c2f6f"/>
<path d="M8 50h1v1h-1z" fill="#8c3673"/>
<path d="M9 50h1v1h-1z" fill="#a14d80"/>
<path d="M10 50h2v1h-2z" fill="#bc3a4a"/>
<path d="M12 50h1v1h-1z" fill="#9b4a87"/>
<path d="M13 50h8v1h-8z" fill="#562498"/>
<path d="M0 51h1v1h-1z" fill="#6c2564"/>
<path d="M1 51h1v1h-1z" fill="#682366"/>
<path d="M2 51h1v1h-1z" fill="#6c2465"/>
<path d="M3 51h3v1h-3z" fill="#6b2566"/>
<path d="M6 51h1v1h-1z" fill="#702666"/>
<path d="M7 51h1v1h-1z" fill="#7c306f"/>
<path d="M8 51h1v1h-1z" fill="#883674"/>
<path d="M9 51h1v1h-1z" fill="#9b4880"/>
<path d="M10 51h4v1h-4z" fill="#bc3a4a"/>
<path d="M14 51h7v1h-7z" fill="#562498"/>
<path d="M0 52h1v1h-1z" fill="#6c2563"/>
<path d="M1 52h3v1h-3z" fill="#6b2464"/>
<path d="M4 52h1v1h-1z" fill="#682366"/>
<path d="M5 52h1v1h-1z" fill="#722665"/>
<path d="M6 52h1v1h-1z" fill="#772768"/>
<path d="M7 52h1v1h-1z" fill="#7f316f"/>
<path d="M8 52h1v1h-1z" fill="#883a75"/>
<path d="M9 52h1v1h-1z" fill="#984680"/>
<path d="M10 52h4v1h-4z" fill="#bc3a4a"/>
<path d="M14 52h1v1h-1z" fill="#8e4382"/>
<path d="M15 52h6v1h-6z" fill="#562498"/>
<path d="M0 53h1v1h-1z" fill="#6c2562"/>
<path d="M1 53h1v1h-1z" fill="#6c2563"/>
<path d="M2 53h3v1h-3z" fill="#6a2463"/>
<path d="M5 53h1v1h-1z" fill="#712766"/>
<path d="M6 53h1v1h-1z" fill="#782a68"/>
<path d="M7 53h1v1h-1z" fill="#7f326e"/>
<path d="M8 53h1v1h-1z" fill="#813672"/>
<path d="M9 53h1v1h-1z" fill="#8e427c"/>
<path d="M10 53h1v1h-1z" fill="#a65287"/>
<path d="M11 53h5v1h-5z" fill="#bc3a4a"/>
<path d="M16 53h5v1h-5z" fill="#562498"/>
<path d="M0 54h1v1h-1z" fill="#6b2561"/>
<path d="M1 54h4v1h-4z" fill="#6c2562"/>
<path d="M5 54h1v1h-1z" fill="#722865"/>
<path d="M6 54h1v1h-1z" fill="#7a2b68"/>
<path d="M7 54h1v1h-1z" fill="#7c306c"/>
<path d="M8 54h1v1h-1z" fill="#7c3671"/>
<path d="M9 54h1v1h-1z" fill="#8c3e77"/>
<path d="M10 54h1v1h-1z" fill="#9e4a80"/>
<path d="M11 54h5v1h-5z" fill="#bc3a4a"/>
<path d="M16 54h1v1h-1z" fill="#8c437f"/>
<path d="M17 54h4v1h-4z" fill="#562498"/>
<path d="M0 55h1v1h-1z" fill="#6c2662"/>
<path d="M1 55h3v1h-3z" fill="#6c2663"/>
<path d="M4 55h1v1h-1z" fill="#702864"/>
<path d="M5 55h1v1h-1z" fill="#742a65"/>
<path d="M6 55h1v1h-1z" fill="#782b68"/>
<path d="M7 55h1v1h-1z" fill="#7a2e6b"/>
<path d="M8 55h1v1h-1z" fill="#7a316c"/>
<path d="M9 55h1v1h-1z" fill="#833670"/>
<path d="M10 55h1v1h-1z" fill="#8c3e77"/>
<path d="M11 55h6v1h-6z" fill="#bc3a4a"/>
<path d="M17 55h1v1h-1z" fill="#944b84"/>
<path d="M18 55h3v1h-3z" fill="#562498"/>
<path d="M0 56h1v1h-1z" fill="#bc6898"/>
<path d="M1 56h1v1h-1z" fill="#581a65"/>
<path d="M2 56h1v1h-1z" fill="#6e2868"/>
<path d="M3 56h1v1h-1z" fill="#6e2968"/>
<path d="M4 56h1v1h-1z" fill="#722b68"/>
<path d="M5 56h1v1h-1z" fill="#772c68"/>
<path d="M6 56h1v1h-1z" fill="#782b69"/>
<path d="M7 56h1v1h-1z" fill="#782d69"/>
<path d="M8 56h1v1h-1z" fill="#792e69"/>
<path d="M9 56h1v1h-1z" fill="#7c316b"/>
<path d="M10 56h1v1h-1z" fill="#80356d"/>
<path d="M11 56h1v1h-1z" fill="#863874"/>
<path d="M12 56h1v1h-1z" fill="#913e7c"/>
<path d="M13 56h1v1h-1z" fill="#a14d85"/>
<path d="M14 56h1v1h-1z" fill="#ad598d"/>
<path d="M15 56h3v1h-3z" fill="#bc3a4a"/>
<path d="M18 56h1v1h-1z" fill="#9e538c"/>
<path d="M19 56h2v1h-2z" fill="#562498"/>
<path d="M0 57h21v1h-21z" fill="#bc6898"/>
</g>
<g fill="#000"><circle cx="1097.4" cy="273.2" r="1.6"/><circle cx="1093.3" cy="279.3" r="1.6"/><circle cx="1086.2" cy="294.3" r="1.6"/><circle cx="1081.3" cy="315.2" r="1.6"/><circle cx="1079.3" cy="336.5" r="1.6"/><circle cx="1078.3" cy="357.3" r="1.6"/><circle cx="1090.3" cy="378.2" r="1.6"/><circle cx="1093.3" cy="383.4" r="1.6"/><circle cx="1106.4" cy="399.1" r="1.6"/><circle cx="1114.4" cy="410.3" r="1.6"/><circle cx="1117.4" cy="420.4" r="1.6"/><circle cx="1121.3" cy="441.3" r="1.6"/><circle cx="1125.4" cy="461.5" r="1.6"/><circle cx="1132.5" cy="482.4" r="1.6"/><circle cx="1131.4" cy="503.5" r="1.6"/><circle cx="1132.5" cy="524.3" r="1.6"/><circle cx="1127.3" cy="545.4" r="1.6"/><circle cx="1124.3" cy="566.3" r="1.6"/><circle cx="1121.3" cy="587.3" r="1.6"/><circle cx="1118.3" cy="608.2" r="1.6"/><circle cx="1114.4" cy="619.2" r="1.6"/><circle cx="1107.3" cy="629.3" r="1.6"/><circle cx="1093.3" cy="643.3" r="1.6"/><circle cx="1089.2" cy="650.2" r="1.6"/><circle cx="1079.3" cy="671.2" r="1.6"/><circle cx="1073.3" cy="692.1" r="1.6"/><circle cx="1072.2" cy="697.3" r="1.6"/><circle cx="1065.4" cy="713.3" r="1.6"/><circle cx="1055.2" cy="734.2" r="1.6"/><circle cx="1051.4" cy="745.4" r="1.6"/><circle cx="1047.3" cy="755.3" r="1.6"/><circle cx="1036.3" cy="776.4" r="1.6"/><circle cx="1030.3" cy="790.3" r="1.6"/><circle cx="1026.4" cy="797.4" r="1.6"/><circle cx="1012.2" cy="818.3" r="1.6"/><circle cx="1009.2" cy="831.2" r="1.6"/><circle cx="1008.4" cy="839.4" r="1.6"/><circle cx="1004.3" cy="860.3" r="1.6"/><circle cx="1009.2" cy="869.3" r="1.6"/><circle cx="1022.3" cy="880.3" r="1.6"/><circle cx="1030.3" cy="895.3" r="1.6"/><circle cx="1031.4" cy="901.3" r="1.6"/><circle cx="1037.4" cy="922.2" r="1.6"/><circle cx="1042.3" cy="943.3" r="1.6"/><circle cx="1051.4" cy="964.9" r="1.6"/><circle cx="1061.4" cy="985.4" r="1.6"/><circle cx="1072.2" cy="993.2" r="1.6"/><circle cx="1084.3" cy="1006.3" r="1.6"/><circle cx="1093.4" cy="1022.2" r="1.6"/><circle cx="1098.4" cy="1027.2" r="1.6"/><circle cx="1114.3" cy="1039.3" r="1.6"/><circle cx="1118.3" cy="1048.4" r="1.6"/><circle cx="1121.3" cy="1069.3" r="1.6"/><circle cx="1135.2" cy="1087.4" r="1.6"/><circle cx="1144.3" cy="1090.4" r="1.6"/><circle cx="1156.3" cy="1099.2" r="1.6"/><circle cx="1160.4" cy="1111.3" r="1.6"/><circle cx="1176.7" cy="1132.7" r="1.6"/><circle cx="1192.3" cy="1153.4" r="1.6"/><circle cx="1198.4" cy="1157.4" r="1.6"/><circle cx="1212.2" cy="1174.2" r="1.6"/><circle cx="1219.3" cy="1185.3" r="1.6"/><circle cx="1234.1" cy="1195.4" r="1.6"/><circle cx="1240.2" cy="1198.2" r="1.6"/><circle cx="1258.6" cy="1216.3" r="1.6"/></g>
<rect x="873.5" y="53.5" width="439" height="1214" fill="none" stroke="#3c2c3c" stroke-opacity="0.18" stroke-width="1"/>
<g transform="translate(1730.0 52.9) scale(20.95238 20.94655)" shape-rendering="crispEdges">
<path d="M0 0h21v1h-21z" fill="#bc6898"/>
<path d="M0 1h21v1h-21z" fill="#bc6898"/>
<path d="M0 2h21v1h-21z" fill="#bc6898"/>
<path d="M0 3h21v1h-21z" fill="#bc6898"/>
<path d="M0 4h21v1h-21z" fill="#bc6898"/>
<path d="M0 5h21v1h-21z" fill="#bc6898"/>
<path d="M0 6h21v1h-21z" fill="#bc6898"/>
<path d="M0 7h1v1h-1z" fill="#843098"/>
<path d="M1 7h1v1h-1z" fill="#944098"/>
<path d="M2 7h1v1h-1z" fill="#a04c98"/>
<path d="M3 7h1v1h-1z" fill="#9a4698"/>
<path d="M4 7h2v1h-2z" fill="#944098"/>
<path d="M6 7h15v1h-15z" fill="#bc6898"/>
<path d="M0 8h1v1h-1z" fill="#843098"/>
<path d="M1 8h1v1h-1z" fill="#944098"/>
<path d="M2 8h1v1h-1z" fill="#a04c98"/>
<path d="M3 8h1v1h-1z" fill="#9a4698"/>
<path d="M4 8h2v1h-2z" fill="#944098"/>
<path d="M6 8h15v1h-15z" fill="#bc6898"/>
<path d="M0 9h1v1h-1z" fill="#9c4898"/>
<path d="M1 9h1v1h-1z" fill="#b66298"/>
<path d="M2 9h1v1h-1z" fill="#bc5a8c"/>
<path d="M3 9h1v1h-1z" fill="#bc588a"/>
<path d="M4 9h1v1h-1z" fill="#bc5a8c"/>
<path d="M5 9h1v1h-1z" fill="#bc588a"/>
<path d="M6 9h1v1h-1z" fill="#bc5a8c"/>
<path d="M7 9h1v1h-1z" fill="#bc5687"/>
<path d="M8 9h1v1h-1z" fill="#bc4e7e"/>
<path d="M9 9h1v1h-1z" fill="#bc5484"/>
<path d="M10 9h1v1h-1z" fill="#bc6697"/>
<path d="M11 9h1v1h-1z" fill="#b76398"/>
<path d="M12 9h1v1h-1z" fill="#944098"/>
<path d="M13 9h1v1h-1z" fill="#a85498"/>
<path d="M14 9h2v1h-2z" fill="#b66298"/>
<path d="M16 9h5v1h-5z" fill="#bc6898"/>
<path d="M0 10h1v1h-1z" fill="#b35f98"/>
<path d="M1 10h1v1h-1z" fill="#bc5a8c"/>
<path d="M2 10h1v1h-1z" fill="#bc4a7c"/>
<path d="M3 10h1v1h-1z" fill="#bc3a6a"/>
<path d="M4 10h1v1h-1z" fill="#bc3264"/>
<path d="M5 10h1v1h-1z" fill="#bc4476"/>
<path d="M6 10h1v1h-1z" fill="#bc5c8e"/>
<path d="M7 10h1v1h-1z" fill="#bc5888"/>
<path d="M8 10h1v1h-1z" fill="#bc4e7e"/>
<path d="M9 10h1v1h-1z" fill="#bc5080"/>
<path d="M10 10h1v1h-1z" fill="#bc6697"/>
<path d="M11 10h1v1h-1z" fill="#b15d98"/>
<path d="M12 10h1v1h-1z" fill="#903c98"/>
<path d="M13 10h1v1h-1z" fill="#9f4b98"/>
<path d="M14 10h2v1h-2z" fill="#ac5898"/>
<path d="M16 10h5v1h-5z" fill="#bc6898"/>
<path d="M0 11h1v1h-1z" fill="#b86498"/>
<path d="M1 11h1v1h-1z" fill="#bc4c7c"/>
<path d="M2 11h1v1h-1z" fill="#bc386a"/>
<path d="M3 11h1v1h-1z" fill="#bc3264"/>
<path d="M4 11h1v1h-1z" fill="#bc2c5c"/>
<path d="M5 11h1v1h-1z" fill="#bc3062"/>
<path d="M6 11h1v1h-1z" fill="#bc386a"/>
<path d="M7 11h1v1h-1z" fill="#bc3e70"/>
<path d="M8 11h1v1h-1z" fill="#bc4474"/>
<path d="M9 11h1v1h-1z" fill="#bc4e7e"/>
<path d="M10 11h1v1h-1z" fill="#b76398"/>
<path d="M11 11h1v1h-1z" fill="#9c4898"/>
<path d="M12 11h1v1h-1z" fill="#7d2998"/>
<path d="M13 11h1v1h-1z" fill="#944098"/>
<path d="M14 11h1v1h-1z" fill="#a75398"/>
<path d="M15 11h1v1h-1z" fill="#b66298"/>
<path d="M16 11h1v1h-1z" fill="#bc5e8e"/>
<path d="M17 11h1v1h-1z" fill="#bc5486"/>
<path d="M18 11h1v1h-1z" fill="#bc4c7e"/>
<path d="M19 11h1v1h-1z" fill="#bc4e7e"/>
<path d="M20 11h1v1h-1z" fill="#bc5282"/>
<path d="M0 12h1v1h-1z" fill="#bc6090"/>
<path d="M1 12h1v1h-1z" fill="#bc487a"/>
<path d="M2 12h1v1h-1z" fill="#bc285a"/>
<path d="M3 12h1v1h-1z" fill="#bc2254"/>
<path d="M4 12h1v1h-1z" fill="#bc1e50"/>
<path d="M5 12h2v1h-2z" fill="#bc1c4e"/>
<path d="M7 12h1v1h-1z" fill="#bc2a5c"/>
<path d="M8 12h1v1h-1z" fill="#bc3264"/>
<path d="M9 12h1v1h-1z" fill="#bc4e7e"/>
<path d="M10 12h1v1h-1z" fill="#a04c98"/>
<path d="M11 12h1v1h-1z" fill="#843098"/>
<path d="M12 12h1v1h-1z" fill="#6a1698"/>
<path d="M13 12h1v1h-1z" fill="#8a3698"/>
<path d="M14 12h1v1h-1z" fill="#a45098"/>
<path d="M15 12h1v1h-1z" fill="#bc6898"/>
<path d="M16 12h1v1h-1z" fill="#bc5f90"/>
<path d="M17 12h1v1h-1z" fill="#bc5080"/>
<path d="M18 12h1v1h-1z" fill="#bc4476"/>
<path d="M19 12h1v1h-1z" fill="#bc4678"/>
<path d="M20 12h1v1h-1z" fill="#bc4a7c"/>
<path d="M0 13h1v1h-1z" fill="#bc4474"/>
<path d="M1 13h1v1h-1z" fill="#bc386a"/>
<path d="M2 13h1v1h-1z" fill="#bc1a4c"/>
<path d="M3 13h4v1h-4z" fill="#bc1648"/>
<path d="M7 13h1v1h-1z" fill="#bc2656"/>
<path d="M8 13h1v1h-1z" fill="#bc2e60"/>
<path d="M9 13h1v1h-1z" fill="#bc4e7e"/>
<path d="M10 13h1v1h-1z" fill="#9a4698"/>
<path d="M11 13h1v1h-1z" fill="#7d2998"/>
<path d="M12 13h1v1h-1z" fill="#641098"/>
<path d="M13 13h1v1h-1z" fill="#7c2898"/>
<path d="M14 13h1v1h-1z" fill="#8e3a98"/>
<path d="M15 13h1v1h-1z" fill="#a24e98"/>
<path d="M16 13h1v1h-1z" fill="#b25e98"/>
<path d="M17 13h3v1h-3z" fill="#bc6898"/>
<path d="M20 13h1v1h-1z" fill="#bc6698"/>
<path d="M0 14h1v1h-1z" fill="#bc2656"/>
<path d="M1 14h1v1h-1z" fill="#bc2052"/>
<path d="M2 14h2v1h-2z" fill="#bc0a3c"/>
<path d="M4 14h1v1h-1z" fill="#bc1040"/>
<path d="M5 14h1v1h-1z" fill="#bc1444"/>
<path d="M6 14h1v1h-1z" fill="#bc1648"/>
<path d="M7 14h1v1h-1z" fill="#bc2252"/>
<path d="M8 14h1v1h-1z" fill="#bc2a5c"/>
<path d="M9 14h1v1h-1z" fill="#bc4c7e"/>
<path d="M10 14h1v1h-1z" fill="#903c98"/>
<path d="M11 14h1v1h-1z" fill="#752198"/>
<path d="M12 14h1v1h-1z" fill="#5c0898"/>
<path d="M13 14h1v1h-1z" fill="#671398"/>
<path d="M14 14h1v1h-1z" fill="#6b1798"/>
<path d="M15 14h4v1h-4z" fill="#6e1a98"/>
<path d="M19 14h1v1h-1z" fill="#7f2b98"/>
<path d="M20 14h1v1h-1z" fill="#8f3b98"/>
<path d="M0 15h1v1h-1z" fill="#bc1e4e"/>
<path d="M1 15h1v1h-1z" fill="#bc1648"/>
<path d="M2 15h2v1h-2z" fill="#bc083a"/>
<path d="M4 15h2v1h-2z" fill="#bc1040"/>
<path d="M6 15h1v1h-1z" fill="#bc1648"/>
<path d="M7 15h1v1h-1z" fill="#bc1c4e"/>
<path d="M8 15h1v1h-1z" fill="#bc2254"/>
<path d="M9 15h1v1h-1z" fill="#bc3e70"/>
<path d="M10 15h1v1h-1z" fill="#bc6496"/>
<path d="M11 15h1v1h-1z" fill="#a04c98"/>
<path d="M12 15h1v1h-1z" fill="#6b1798"/>
<path d="M13 15h6v1h-6z" fill="#701c98"/>
<path d="M19 15h1v1h-1z" fill="#7e2a98"/>
<path d="M20 15h1v1h-1z" fill="#8a3698"/>
<path d="M0 16h1v1h-1z" fill="#bc1546"/>
<path d="M1 16h1v1h-1z" fill="#bc1040"/>
<path d="M2 16h2v1h-2z" fill="#bc083a"/>
<path d="M4 16h2v1h-2z" fill="#bc1040"/>
<path d="M6 16h2v1h-2z" fill="#bc1c4e"/>
<path d="M8 16h1v1h-1z" fill="#bc184a"/>
<path d="M9 16h1v1h-1z" fill="#bc2e60"/>
<path d="M10 16h1v1h-1z" fill="#bc5888"/>
<path d="M11 16h1v1h-1z" fill="#b56198"/>
<path d="M12 16h1v1h-1z" fill="#7d2998"/>
<path d="M13 16h1v1h-1z" fill="#782498"/>
<path d="M14 16h5v1h-5z" fill="#742098"/>
<path d="M19 16h1v1h-1z" fill="#782498"/>
<path d="M20 16h1v1h-1z" fill="#7e2a98"/>
<path d="M0 17h1v1h-1z" fill="#bc1040"/>
<path d="M1 17h5v1h-5z" fill="#bc0a3c"/>
<path d="M6 17h3v1h-3z" fill="#bc1648"/>
<path d="M9 17h1v1h-1z" fill="#bc2a5c"/>
<path d="M10 17h1v1h-1z" fill="#bc4274"/>
<path d="M11 17h1v1h-1z" fill="#bc6294"/>
<path d="M12 17h1v1h-1z" fill="#8b3798"/>
<path d="M13 17h1v1h-1z" fill="#7f2b98"/>
<path d="M14 17h7v1h-7z" fill="#782498"/>
<path d="M0 18h1v1h-1z" fill="#bc0c3c"/>
<path d="M1 18h6v1h-6z" fill="#bc083a"/>
<path d="M7 18h2v1h-2z" fill="#bc1242"/>
<path d="M9 18h1v1h-1z" fill="#bc2254"/>
<path d="M10 18h1v1h-1z" fill="#bc3062"/>
<path d="M11 18h1v1h-1z" fill="#bc5a8c"/>
<path d="M12 18h1v1h-1z" fill="#944098"/>
<path d="M13 18h1v1h-1z" fill="#832f98"/>
<path d="M14 18h7v1h-7z" fill="#7a2698"/>
<path d="M0 19h1v1h-1z" fill="#bc0c3c"/>
<path d="M1 19h8v1h-8z" fill="#bc1040"/>
<path d="M9 19h1v1h-1z" fill="#bc1e50"/>
<path d="M10 19h1v1h-1z" fill="#bc2a5c"/>
<path d="M11 19h1v1h-1z" fill="#bc4e7e"/>
<path d="M12 19h1v1h-1z" fill="#a95598"/>
<path d="M13 19h1v1h-1z" fill="#8e3a98"/>
<path d="M14 19h7v1h-7z" fill="#782498"/>
<path d="M0 20h1v1h-1z" fill="#bc0c3c"/>
<path d="M1 20h8v1h-8z" fill="#bc1242"/>
<path d="M9 20h1v1h-1z" fill="#bc1e50"/>
<path d="M10 20h1v1h-1z" fill="#bc2c5e"/>
<path d="M11 20h1v1h-1z" fill="#bc4c7c"/>
<path d="M12 20h1v1h-1z" fill="#ba6698"/>
<path d="M13 20h1v1h-1z" fill="#9b4798"/>
<path d="M14 20h1v1h-1z" fill="#6a1698"/>
<path d="M15 20h1v1h-1z" fill="#721e98"/>
<path d="M16 20h5v1h-5z" fill="#782498"/>
<path d="M0 21h1v1h-1z" fill="#bc0c3c"/>
<path d="M1 21h8v1h-8z" fill="#bc1242"/>
<path d="M9 21h1v1h-1z" fill="#bc1e50"/>
<path d="M10 21h1v1h-1z" fill="#bc2c5e"/>
<path d="M11 21h1v1h-1z" fill="#bc4c7c"/>
<path d="M12 21h1v1h-1z" fill="#ba6698"/>
<path d="M13 21h1v1h-1z" fill="#9d4998"/>
<path d="M14 21h1v1h-1z" fill="#620e98"/>
<path d="M15 21h1v1h-1z" fill="#701c98"/>
<path d="M16 21h5v1h-5z" fill="#782498"/>
<path d="M0 22h1v1h-1z" fill="#bc0c3c"/>
<path d="M1 22h8v1h-8z" fill="#bc1242"/>
<path d="M9 22h1v1h-1z" fill="#bc1e50"/>
<path d="M10 22h1v1h-1z" fill="#bc2c5e"/>
<path d="M11 22h1v1h-1z" fill="#bc4c7c"/>
<path d="M12 22h1v1h-1z" fill="#ba6698"/>
<path d="M13 22h1v1h-1z" fill="#a14d98"/>
<path d="M14 22h1v1h-1z" fill="#5b0798"/>
<path d="M15 22h1v1h-1z" fill="#6d1998"/>
<path d="M16 22h5v1h-5z" fill="#731f98"/>
<path d="M0 23h1v1h-1z" fill="#bc1040"/>
<path d="M1 23h8v1h-8z" fill="#bc1546"/>
<path d="M9 23h1v1h-1z" fill="#bc2051"/>
<path d="M10 23h1v1h-1z" fill="#bc3062"/>
<path d="M11 23h1v1h-1z" fill="#bc4e7e"/>
<path d="M12 23h1v1h-1z" fill="#b46098"/>
<path d="M13 23h1v1h-1z" fill="#8e3a98"/>
<path d="M14 23h1v1h-1z" fill="#5d0998"/>
<path d="M15 23h1v1h-1z" fill="#6a1698"/>
<path d="M16 23h5v1h-5z" fill="#731f98"/>
<path d="M0 24h1v1h-1z" fill="#bc1040"/>
<path d="M1 24h8v1h-8z" fill="#bc1546"/>
<path d="M9 24h1v1h-1z" fill="#bc2051"/>
<path d="M10 24h1v1h-1z" fill="#bc3062"/>
<path d="M11 24h1v1h-1z" fill="#bc4e7e"/>
<path d="M12 24h1v1h-1z" fill="#a95598"/>
<path d="M13 24h1v1h-1z" fill="#8b3798"/>
<path d="M14 24h1v1h-1z" fill="#630f98"/>
<path d="M15 24h1v1h-1z" fill="#6a1698"/>
<path d="M16 24h3v1h-3z" fill="#701c98"/>
<path d="M19 24h2v1h-2z" fill="#782498"/>
<path d="M0 25h1v1h-1z" fill="#bc1242"/>
<path d="M1 25h8v1h-8z" fill="#bc1546"/>
<path d="M9 25h1v1h-1z" fill="#bc2253"/>
<path d="M10 25h1v1h-1z" fill="#bc3264"/>
<path d="M11 25h1v1h-1z" fill="#bc4e7e"/>
<path d="M12 25h1v1h-1z" fill="#a55198"/>
<path d="M13 25h1v1h-1z" fill="#8c3898"/>
<path d="M14 25h1v1h-1z" fill="#6d1998"/>
<path d="M15 25h4v1h-4z" fill="#721e98"/>
<path d="M19 25h2v1h-2z" fill="#782498"/>
<path d="M0 26h1v1h-1z" fill="#bc1242"/>
<path d="M1 26h8v1h-8z" fill="#bc1546"/>
<path d="M9 26h1v1h-1z" fill="#bc2a5a"/>
<path d="M10 26h1v1h-1z" fill="#bc386a"/>
<path d="M11 26h1v1h-1z" fill="#bc5888"/>
<path d="M12 26h1v1h-1z" fill="#9c4898"/>
<path d="M13 26h1v1h-1z" fill="#8c3898"/>
<path d="M14 26h7v1h-7z" fill="#782498"/>
<path d="M0 27h7v1h-7z" fill="#bc1242"/>
<path d="M7 27h1v1h-1z" fill="#bc2051"/>
<path d="M8 27h1v1h-1z" fill="#bc2657"/>
<path d="M9 27h1v1h-1z" fill="#bc3a6c"/>
<path d="M10 27h1v1h-1z" fill="#bc4e80"/>
<path d="M11 27h1v1h-1z" fill="#bc6696"/>
<path d="M12 27h1v1h-1z" fill="#923e98"/>
<path d="M13 27h1v1h-1z" fill="#883498"/>
<path d="M14 27h7v1h-7z" fill="#7a2698"/>
<path d="M0 28h7v1h-7z" fill="#bc1242"/>
<path d="M7 28h1v1h-1z" fill="#bc2253"/>
<path d="M8 28h1v1h-1z" fill="#bc2c5c"/>
<path d="M9 28h1v1h-1z" fill="#bc4474"/>
<path d="M10 28h1v1h-1z" fill="#bc6696"/>
<path d="M11 28h1v1h-1z" fill="#aa5698"/>
<path d="M12 28h1v1h-1z" fill="#7e2a98"/>
<path d="M13 28h2v1h-2z" fill="#7d2998"/>
<path d="M15 28h6v1h-6z" fill="#782498"/>
<path d="M0 29h7v1h-7z" fill="#bc1242"/>
<path d="M7 29h1v1h-1z" fill="#bc2a5a"/>
<path d="M8 29h1v1h-1z" fill="#bc3668"/>
<path d="M9 29h1v1h-1z" fill="#bc588a"/>
<path d="M10 29h1v1h-1z" fill="#a04c98"/>
<path d="M11 29h1v1h-1z" fill="#903c98"/>
<path d="M12 29h9v1h-9z" fill="#7b2798"/>
<path d="M0 30h6v1h-6z" fill="#bc1242"/>
<path d="M6 30h1v1h-1z" fill="#bc1c4e"/>
<path d="M7 30h1v1h-1z" fill="#bc2e5e"/>
<path d="M8 30h1v1h-1z" fill="#bc4070"/>
<path d="M9 30h1v1h-1z" fill="#bc6696"/>
<path d="M10 30h1v1h-1z" fill="#6a1698"/>
<path d="M11 30h1v1h-1z" fill="#701c98"/>
<path d="M12 30h9v1h-9z" fill="#7a2698"/>
<path d="M0 31h5v1h-5z" fill="#bc1242"/>
<path d="M5 31h1v1h-1z" fill="#bc1e50"/>
<path d="M6 31h1v1h-1z" fill="#bc2454"/>
<path d="M7 31h1v1h-1z" fill="#bc3668"/>
<path d="M8 31h1v1h-1z" fill="#bc4e7e"/>
<path d="M9 31h1v1h-1z" fill="#b76398"/>
<path d="M10 31h1v1h-1z" fill="#661298"/>
<path d="M11 31h1v1h-1z" fill="#701c98"/>
<path d="M12 31h9v1h-9z" fill="#7a2698"/>
<path d="M0 32h5v1h-5z" fill="#bc1242"/>
<path d="M5 32h1v1h-1z" fill="#bc2052"/>
<path d="M6 32h1v1h-1z" fill="#bc2a5a"/>
<path d="M7 32h1v1h-1z" fill="#bc4676"/>
<path d="M8 32h1v1h-1z" fill="#bc5e8e"/>
<path d="M9 32h1v1h-1z" fill="#a45098"/>
<path d="M10 32h1v1h-1z" fill="#630f98"/>
<path d="M11 32h1v1h-1z" fill="#701c98"/>
<path d="M12 32h9v1h-9z" fill="#7c2898"/>
<path d="M0 33h5v1h-5z" fill="#bc1444"/>
<path d="M5 33h1v1h-1z" fill="#bc2a5a"/>
<path d="M6 33h1v1h-1z" fill="#bc3a6a"/>
<path d="M7 33h1v1h-1z" fill="#bc4e7e"/>
<path d="M8 33h1v1h-1z" fill="#bc6696"/>
<path d="M9 33h1v1h-1z" fill="#9c4898"/>
<path d="M10 33h1v1h-1z" fill="#651198"/>
<path d="M11 33h1v1h-1z" fill="#701c98"/>
<path d="M12 33h9v1h-9z" fill="#7c2898"/>
<path d="M0 34h5v1h-5z" fill="#bc1444"/>
<path d="M5 34h1v1h-1z" fill="#bc2e5e"/>
<path d="M6 34h1v1h-1z" fill="#bc4676"/>
<path d="M7 34h1v1h-1z" fill="#bc6696"/>
<path d="M8 34h1v1h-1z" fill="#aa5698"/>
<path d="M9 34h1v1h-1z" fill="#8c3898"/>
<path d="M10 34h1v1h-1z" fill="#6a1698"/>
<path d="M11 34h1v1h-1z" fill="#742098"/>
<path d="M12 34h9v1h-9z" fill="#812d98"/>
<path d="M0 35h2v1h-2z" fill="#bc1242"/>
<path d="M2 35h3v1h-3z" fill="#bc184a"/>
<path d="M5 35h1v1h-1z" fill="#bc3264"/>
<path d="M6 35h1v1h-1z" fill="#bc588a"/>
<path d="M7 35h1v1h-1z" fill="#b86498"/>
<path d="M8 35h1v1h-1z" fill="#944098"/>
<path d="M9 35h1v1h-1z" fill="#873398"/>
<path d="M10 35h1v1h-1z" fill="#731f98"/>
<path d="M11 35h10v1h-10z" fill="#7e2a98"/>
<path d="M0 36h2v1h-2z" fill="#bc1040"/>
<path d="M2 36h3v1h-3z" fill="#bc184a"/>
<path d="M5 36h1v1h-1z" fill="#bc3a6c"/>
<path d="M6 36h1v1h-1z" fill="#bc5e8e"/>
<path d="M7 36h1v1h-1z" fill="#a95598"/>
<path d="M8 36h2v1h-2z" fill="#772398"/>
<path d="M10 36h2v1h-2z" fill="#7b2798"/>
<path d="M12 36h7v1h-7z" fill="#822e98"/>
<path d="M19 36h1v1h-1z" fill="#7b2798"/>
<path d="M20 36h1v1h-1z" fill="#772398"/>
<path d="M0 37h2v1h-2z" fill="#bc1040"/>
<path d="M2 37h1v1h-1z" fill="#bc0c3c"/>
<path d="M3 37h2v1h-2z" fill="#bc1646"/>
<path d="M5 37h1v1h-1z" fill="#bc3a6c"/>
<path d="M6 37h1v1h-1z" fill="#bc5e8e"/>
<path d="M7 37h1v1h-1z" fill="#a55198"/>
<path d="M8 37h1v1h-1z" fill="#711d98"/>
<path d="M9 37h1v1h-1z" fill="#742098"/>
<path d="M10 37h2v1h-2z" fill="#7b2798"/>
<path d="M12 37h7v1h-7z" fill="#822e98"/>
<path d="M19 37h1v1h-1z" fill="#7b2798"/>
<path d="M20 37h1v1h-1z" fill="#772398"/>
<path d="M0 38h1v1h-1z" fill="#bc1a4c"/>
<path d="M1 38h1v1h-1z" fill="#bc1040"/>
<path d="M2 38h1v1h-1z" fill="#bc0a3a"/>
<path d="M3 38h2v1h-2z" fill="#bc1646"/>
<path d="M5 38h1v1h-1z" fill="#bc3a6c"/>
<path d="M6 38h1v1h-1z" fill="#bc6696"/>
<path d="M7 38h1v1h-1z" fill="#9c4898"/>
<path d="M8 38h1v1h-1z" fill="#6c1898"/>
<path d="M9 38h1v1h-1z" fill="#701c98"/>
<path d="M10 38h11v1h-11z" fill="#792598"/>
<path d="M0 39h5v1h-5z" fill="#bc1242"/>
<path d="M5 39h1v1h-1z" fill="#bc3668"/>
<path d="M6 39h1v1h-1z" fill="#bc588a"/>
<path d="M7 39h1v1h-1z" fill="#b76398"/>
<path d="M8 39h13v1h-13z" fill="#772398"/>
<path d="M0 40h5v1h-5z" fill="#bc1040"/>
<path d="M5 40h1v1h-1z" fill="#bc2c5e"/>
<path d="M6 40h1v1h-1z" fill="#bc4a7c"/>
<path d="M7 40h1v1h-1z" fill="#bc6696"/>
<path d="M8 40h4v1h-4z" fill="#7c2898"/>
<path d="M12 40h3v1h-3z" fill="#701c98"/>
<path d="M15 40h6v1h-6z" fill="#772398"/>
<path d="M0 41h5v1h-5z" fill="#bc1040"/>
<path d="M5 41h1v1h-1z" fill="#bc2254"/>
<path d="M6 41h1v1h-1z" fill="#bc3466"/>
<path d="M7 41h1v1h-1z" fill="#bc5284"/>
<path d="M8 41h1v1h-1z" fill="#a24e98"/>
<path d="M9 41h1v1h-1z" fill="#8d3998"/>
<path d="M10 41h11v1h-11z" fill="#772398"/>
<path d="M0 42h1v1h-1z" fill="#bc1444"/>
<path d="M1 42h2v1h-2z" fill="#bc2051"/>
<path d="M3 42h1v1h-1z" fill="#bc1242"/>
<path d="M4 42h1v1h-1z" fill="#bc0a3a"/>
<path d="M5 42h1v1h-1z" fill="#bc1a4c"/>
<path d="M6 42h1v1h-1z" fill="#bc3062"/>
<path d="M7 42h1v1h-1z" fill="#bc4a7c"/>
<path d="M8 42h1v1h-1z" fill="#b76398"/>
<path d="M9 42h1v1h-1z" fill="#954198"/>
<path d="M10 42h6v1h-6z" fill="#792598"/>
<path d="M16 42h3v1h-3z" fill="#701c98"/>
<path d="M19 42h2v1h-2z" fill="#792598"/>
<path d="M0 43h1v1h-1z" fill="#bc1a4c"/>
<path d="M1 43h2v1h-2z" fill="#bc1e50"/>
<path d="M3 43h1v1h-1z" fill="#bc1242"/>
<path d="M4 43h1v1h-1z" fill="#bc0c3c"/>
<path d="M5 43h1v1h-1z" fill="#bc1646"/>
<path d="M6 43h1v1h-1z" fill="#bc2a5c"/>
<path d="M7 43h1v1h-1z" fill="#bc4878"/>
<path d="M8 43h1v1h-1z" fill="#bc5f90"/>
<path d="M9 43h1v1h-1z" fill="#a95598"/>
<path d="M10 43h11v1h-11z" fill="#7d2998"/>
<path d="M0 44h2v1h-2z" fill="#bc1a4c"/>
<path d="M2 44h4v1h-4z" fill="#bc1444"/>
<path d="M6 44h1v1h-1z" fill="#bc1e50"/>
<path d="M7 44h1v1h-1z" fill="#bc3a6c"/>
<path d="M8 44h1v1h-1z" fill="#bc588a"/>
<path d="M9 44h1v1h-1z" fill="#b76398"/>
<path d="M10 44h7v1h-7z" fill="#7e2a98"/>
<path d="M17 44h3v1h-3z" fill="#6c1898"/>
<path d="M20 44h1v1h-1z" fill="#772398"/>
<path d="M0 45h7v1h-7z" fill="#bc1646"/>
<path d="M7 45h1v1h-1z" fill="#bc2a5c"/>
<path d="M8 45h1v1h-1z" fill="#bc3668"/>
<path d="M9 45h1v1h-1z" fill="#bc5888"/>
<path d="M10 45h1v1h-1z" fill="#b76398"/>
<path d="M11 45h1v1h-1z" fill="#a04c98"/>
<path d="M12 45h4v1h-4z" fill="#7e2a98"/>
<path d="M16 45h4v1h-4z" fill="#711d98"/>
<path d="M20 45h1v1h-1z" fill="#792598"/>
<path d="M0 46h3v1h-3z" fill="#bc1646"/>
<path d="M3 46h1v1h-1z" fill="#bc1c4e"/>
<path d="M4 46h4v1h-4z" fill="#bc1646"/>
<path d="M8 46h1v1h-1z" fill="#bc1c4e"/>
<path d="M9 46h1v1h-1z" fill="#bc3668"/>
<path d="M10 46h1v1h-1z" fill="#bc5a8a"/>
<path d="M11 46h1v1h-1z" fill="#b76398"/>
<path d="M12 46h9v1h-9z" fill="#7e2a98"/>
<path d="M0 47h9v1h-9z" fill="#bc1646"/>
<path d="M9 47h1v1h-1z" fill="#bc2657"/>
<path d="M10 47h1v1h-1z" fill="#bc3a6c"/>
<path d="M11 47h1v1h-1z" fill="#bc5c8c"/>
<path d="M12 47h6v1h-6z" fill="#812d98"/>
<path d="M18 47h2v1h-2z" fill="#742098"/>
<path d="M20 47h1v1h-1z" fill="#792598"/>
<path d="M0 48h1v1h-1z" fill="#bc1040"/>
<path d="M1 48h8v1h-8z" fill="#bc1646"/>
<path d="M9 48h1v1h-1z" fill="#bc1a4c"/>
<path d="M10 48h1v1h-1z" fill="#bc2657"/>
<path d="M11 48h1v1h-1z" fill="#bc487a"/>
<path d="M12 48h5v1h-5z" fill="#812d98"/>
<path d="M17 48h4v1h-4z" fill="#7b2798"/>
<path d="M0 49h10v1h-10z" fill="#bc184a"/>
<path d="M10 49h1v1h-1z" fill="#bc2051"/>
<path d="M11 49h1v1h-1z" fill="#bc3264"/>
<path d="M12 49h1v1h-1z" fill="#bc6294"/>
<path d="M13 49h1v1h-1z" fill="#bc6696"/>
<path d="M14 49h7v1h-7z" fill="#822e98"/>
<path d="M0 50h3v1h-3z" fill="#bc1646"/>
<path d="M3 50h5v1h-5z" fill="#bc1c4e"/>
<path d="M8 50h2v1h-2z" fill="#bc1646"/>
<path d="M10 50h1v1h-1z" fill="#bc1c4e"/>
<path d="M11 50h1v1h-1z" fill="#bc2a5c"/>
<path d="M12 50h1v1h-1z" fill="#bc3a6c"/>
<path d="M13 50h1v1h-1z" fill="#bc5e8e"/>
<path d="M14 50h1v1h-1z" fill="#843098"/>
<path d="M15 50h4v1h-4z" fill="#863298"/>
<path d="M19 50h2v1h-2z" fill="#7b2798"/>
<path d="M0 51h8v1h-8z" fill="#bc1646"/>
<path d="M8 51h2v1h-2z" fill="#bc0e3e"/>
<path d="M10 51h1v1h-1z" fill="#bc1646"/>
<path d="M11 51h1v1h-1z" fill="#bc2254"/>
<path d="M12 51h1v1h-1z" fill="#bc2a5c"/>
<path d="M13 51h1v1h-1z" fill="#bc3668"/>
<path d="M14 51h1v1h-1z" fill="#bc6294"/>
<path d="M15 51h1v1h-1z" fill="#a95598"/>
<path d="M16 51h1v1h-1z" fill="#731f98"/>
<path d="M17 51h1v1h-1z" fill="#772398"/>
<path d="M18 51h3v1h-3z" fill="#7e2a98"/>
<path d="M0 52h5v1h-5z" fill="#bc1646"/>
<path d="M5 52h5v1h-5z" fill="#bc0c3c"/>
<path d="M10 52h2v1h-2z" fill="#bc1646"/>
<path d="M12 52h1v1h-1z" fill="#bc2051"/>
<path d="M13 52h1v1h-1z" fill="#bc2a5c"/>
<path d="M14 52h1v1h-1z" fill="#bc4476"/>
<path d="M15 52h1v1h-1z" fill="#bc5e8e"/>
<path d="M16 52h1v1h-1z" fill="#6a1698"/>
<path d="M17 52h1v1h-1z" fill="#6f1b98"/>
<path d="M18 52h1v1h-1z" fill="#7b2798"/>
<path d="M19 52h1v1h-1z" fill="#863298"/>
<path d="M20 52h1v1h-1z" fill="#8c3898"/>
<path d="M0 53h2v1h-2z" fill="#bc1a4c"/>
<path d="M2 53h9v1h-9z" fill="#bc0e3e"/>
<path d="M11 53h2v1h-2z" fill="#bc184a"/>
<path d="M13 53h1v1h-1z" fill="#bc2051"/>
<path d="M14 53h1v1h-1z" fill="#bc2a5c"/>
<path d="M15 53h1v1h-1z" fill="#bc4476"/>
<path d="M16 53h1v1h-1z" fill="#bc6294"/>
<path d="M17 53h1v1h-1z" fill="#b05c98"/>
<path d="M18 53h1v1h-1z" fill="#843098"/>
<path d="M19 53h1v1h-1z" fill="#812d98"/>
<path d="M20 53h1v1h-1z" fill="#7e2a98"/>
<path d="M0 54h3v1h-3z" fill="#bc184a"/>
<path d="M3 54h5v1h-5z" fill="#bc0e3e"/>
<path d="M8 54h5v1h-5z" fill="#bc1646"/>
<path d="M13 54h1v1h-1z" fill="#bc1a4c"/>
<path d="M14 54h1v1h-1z" fill="#bc2051"/>
<path d="M15 54h1v1h-1z" fill="#bc3264"/>
<path d="M16 54h1v1h-1z" fill="#bc5a8a"/>
<path d="M17 54h1v1h-1z" fill="#bc6294"/>
<path d="M18 54h1v1h-1z" fill="#903c98"/>
<path d="M19 54h1v1h-1z" fill="#843098"/>
<path d="M20 54h1v1h-1z" fill="#772398"/>
<path d="M0 55h2v1h-2z" fill="#bc184a"/>
<path d="M2 55h5v1h-5z" fill="#bc1040"/>
<path d="M7 55h3v1h-3z" fill="#bc2657"/>
<path d="M10 55h1v1h-1z" fill="#bc2c5e"/>
<path d="M11 55h1v1h-1z" fill="#bc2051"/>
<path d="M12 55h2v1h-2z" fill="#bc184a"/>
<path d="M14 55h1v1h-1z" fill="#bc2051"/>
<path d="M15 55h1v1h-1z" fill="#bc285a"/>
<path d="M16 55h1v1h-1z" fill="#bc3264"/>
<path d="M17 55h1v1h-1z" fill="#bc4476"/>
<path d="M18 55h1v1h-1z" fill="#bc6294"/>
<path d="M19 55h1v1h-1z" fill="#a95598"/>
<path d="M20 55h1v1h-1z" fill="#772398"/>
<path d="M0 56h1v1h-1z" fill="#bc6898"/>
<path d="M1 56h1v1h-1z" fill="#bc0232"/>
<path d="M2 56h5v1h-5z" fill="#bc1646"/>
<path d="M7 56h1v1h-1z" fill="#bc2254"/>
<path d="M8 56h1v1h-1z" fill="#bc2a5c"/>
<path d="M9 56h1v1h-1z" fill="#bc4274"/>
<path d="M10 56h1v1h-1z" fill="#bc5c8c"/>
<path d="M11 56h1v1h-1z" fill="#bc386a"/>
<path d="M12 56h1v1h-1z" fill="#bc2052"/>
<path d="M13 56h2v1h-2z" fill="#bc1646"/>
<path d="M15 56h1v1h-1z" fill="#bc1c4e"/>
<path d="M16 56h1v1h-1z" fill="#bc2657"/>
<path d="M17 56h1v1h-1z" fill="#bc386a"/>
<path d="M18 56h1v1h-1z" fill="#bc588a"/>
<path d="M19 56h1v1h-1z" fill="#b76398"/>
<path d="M20 56h1v1h-1z" fill="#7e2a98"/>
<path d="M0 57h21v1h-21z" fill="#bc6898"/>
</g>
<g fill="#000"><circle cx="1954.4" cy="273.2" r="1.6"/><circle cx="1950.3" cy="279.3" r="1.6"/><circle cx="1943.2" cy="294.3" r="1.6"/><circle cx="1938.3" cy="315.2" r="1.6"/><circle cx="1936.3" cy="336.5" r="1.6"/><circle cx="1935.3" cy="357.3" r="1.6"/><circle cx="1947.3" cy="378.2" r="1.6"/><circle cx="1950.3" cy="383.4" r="1.6"/><circle cx="1963.4" cy="399.1" r="1.6"/><circle cx="1971.4" cy="410.3" r="1.6"/><circle cx="1974.4" cy="420.4" r="1.6"/><circle cx="1978.3" cy="441.3" r="1.6"/><circle cx="1982.4" cy="461.5" r="1.6"/><circle cx="1989.5" cy="482.4" r="1.6"/><circle cx="1988.4" cy="503.5" r="1.6"/><circle cx="1989.5" cy="524.3" r="1.6"/><circle cx="1984.3" cy="545.4" r="1.6"/><circle cx="1981.3" cy="566.3" r="1.6"/><circle cx="1978.3" cy="587.3" r="1.6"/><circle cx="1975.3" cy="608.2" r="1.6"/><circle cx="1971.4" cy="619.2" r="1.6"/><circle cx="1964.3" cy="629.3" r="1.6"/><circle cx="1950.3" cy="643.3" r="1.6"/><circle cx="1946.2" cy="650.2" r="1.6"/><circle cx="1936.3" cy="671.2" r="1.6"/><circle cx="1930.3" cy="692.1" r="1.6"/><circle cx="1929.2" cy="697.3" r="1.6"/><circle cx="1922.4" cy="713.3" r="1.6"/><circle cx="1912.2" cy="734.2" r="1.6"/><circle cx="1908.4" cy="745.4" r="1.6"/><circle cx="1904.3" cy="755.3" r="1.6"/><circle cx="1893.3" cy="776.4" r="1.6"/><circle cx="1887.3" cy="790.3" r="1.6"/><circle cx="1883.4" cy="797.4" r="1.6"/><circle cx="1869.2" cy="818.3" r="1.6"/><circle cx="1866.2" cy="831.2" r="1.6"/><circle cx="1865.4" cy="839.4" r="1.6"/><circle cx="1861.3" cy="860.3" r="1.6"/><circle cx="1866.2" cy="869.3" r="1.6"/><circle cx="1879.3" cy="880.3" r="1.6"/><circle cx="1887.3" cy="895.3" r="1.6"/><circle cx="1888.4" cy="901.3" r="1.6"/><circle cx="1894.4" cy="922.2" r="1.6"/><circle cx="1899.3" cy="943.3" r="1.6"/><circle cx="1908.4" cy="964.9" r="1.6"/><circle cx="1918.4" cy="985.4" r="1.6"/><circle cx="1929.2" cy="993.2" r="1.6"/><circle cx="1941.3" cy="1006.3" r="1.6"/><circle cx="1950.4" cy="1022.2" r="1.6"/><circle cx="1955.4" cy="1027.2" r="1.6"/><circle cx="1971.3" cy="1039.3" r="1.6"/><circle cx="1975.3" cy="1048.4" r="1.6"/><circle cx="1978.3" cy="1069.3" r="1.6"/><circle cx="1992.2" cy="1087.4" r="1.6"/><circle cx="2001.3" cy="1090.4" r="1.6"/><circle cx="2013.3" cy="1099.2" r="1.6"/><circle cx="2017.4" cy="1111.3" r="1.6"/><circle cx="2033.7" cy="1132.7" r="1.6"/><circle cx="2049.3" cy="1153.4" r="1.6"/><circle cx="2055.4" cy="1157.4" r="1.6"/><circle cx="2069.2" cy="1174.2" r="1.6"/><circle cx="2076.3" cy="1185.3" r="1.6"/><circle cx="2091.1" cy="1195.4" r="1.6"/><circle cx="2097.2" cy="1198.2" r="1.6"/><circle cx="2115.6" cy="1216.3" r="1.6"/></g>
<rect x="1730.5" y="53.5" width="439" height="1214" fill="none" stroke="#3c2c3c" stroke-opacity="0.18" stroke-width="1"/>
<text x="235.3" y="41" text-anchor="middle" font-family="'DejaVu Sans','Liberation Sans',sans-serif" font-weight="bold" font-size="33.2">sar1810</text><text x="1093" y="41" text-anchor="middle" font-family="'DejaVu Sans','Liberation Sans',sans-serif" font-weight="bold" font-size="33.2">2009-05-19-09-56-10</text><text x="1950" y="41" text-anchor="middle" font-family="'DejaVu Sans','Liberation Sans',sans-serif" font-weight="bold" font-size="33.2">L7</text>
<g font-family="'DejaVu Sans','Liberation Sans',sans-serif" font-size="20.93" fill="#000">
<rect x="1323" y="671" width="346" height="157.7" rx="4" ry="4" fill="#fff" fill-opacity="0.8" stroke="#ccc" stroke-width="1.5"/>
<rect x="1330" y="680.2" width="44" height="15.6" fill="#ff8c3b"/>
<rect x="1330" y="710.5" width="44" height="15.8" fill="#ccffff"/>
<rect x="1330" y="741" width="44" height="15.7" fill="#0055ff"/>
<rect x="1330" y="778" width="44.5" height="3" fill="#000"/>
<rect x="1330.7" y="801.9" width="42.6" height="15.2" fill="#9a3031" stroke="#8b1e1f" stroke-width="1.5"/>
<text x="1390" y="695.6">sand</text>
<text x="1390" y="725.9">whitewater</text>
<text x="1390" y="756.2">water</text>
<text x="1390" y="786.5">shoreline</text>
<text x="1390" y="816.8">reference shoreline buffer</text>
</g>
</svg></body></html>
